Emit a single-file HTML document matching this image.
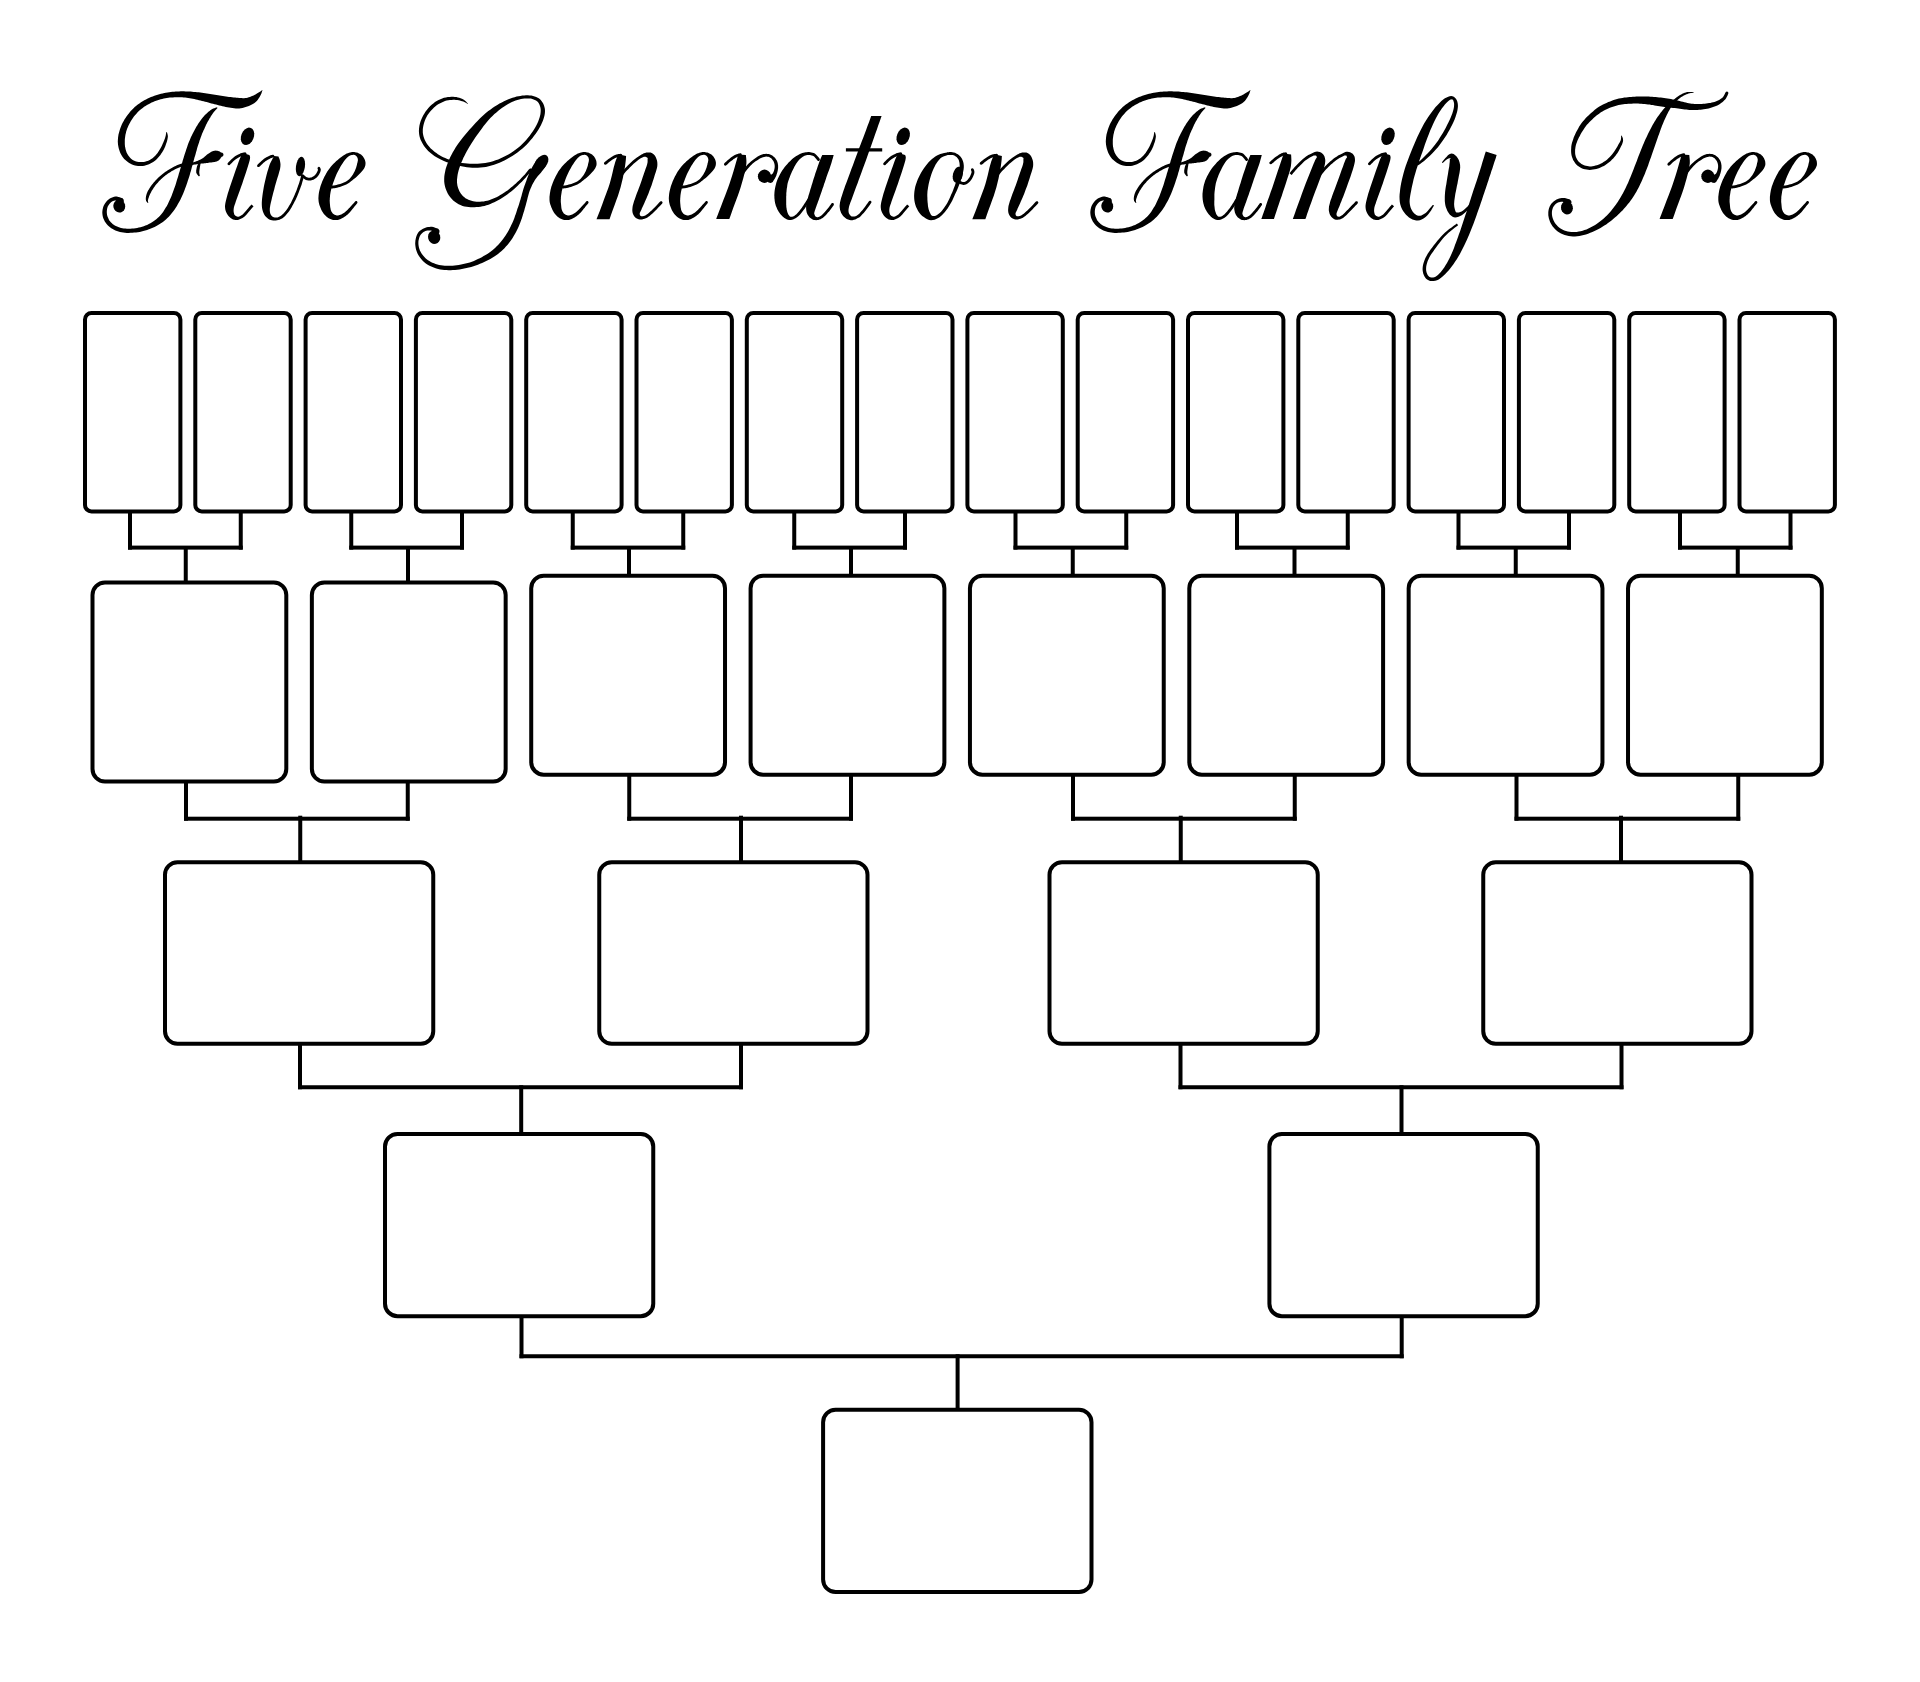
<!DOCTYPE html>
<html lang="en">
<head>
<meta charset="utf-8">
<title>Five Generation Family Tree</title>
<style>
html,body{margin:0;padding:0;background:#fff;}
body{width:1920px;height:1682px;overflow:hidden;font-family:"Liberation Serif",serif;}
svg{display:block;position:absolute;left:0;top:0;}
.bx rect{fill:#fff;stroke:#000;stroke-width:4;}
.ln rect{fill:#000;}
.sr-title{position:absolute;left:100px;top:70px;width:1740px;height:170px;margin:0;font:italic 150px/170px "Liberation Serif",serif;color:transparent;white-space:nowrap;overflow:hidden;text-align:center;z-index:2;}
</style>
</head>
<body>
<h1 class="sr-title">Five Generation Family Tree</h1>
<svg width="1920" height="1682" viewBox="0 0 1920 1682" role="img" aria-label="Five Generation Family Tree chart">
<rect x="0" y="0" width="1920" height="1682" fill="#fff"/>
<g class="ln">
<rect x="128" y="511.4" width="4" height="38.2"/>
<rect x="238.75" y="511.4" width="4" height="38.2"/>
<rect x="128" y="545.6" width="114.75" height="4"/>
<rect x="183.75" y="548.6" width="4" height="33.9"/>
<rect x="349.25" y="511.4" width="4" height="38.2"/>
<rect x="460" y="511.4" width="4" height="38.2"/>
<rect x="349.25" y="545.6" width="114.75" height="4"/>
<rect x="406" y="548.6" width="4" height="33.9"/>
<rect x="570.75" y="511.4" width="4" height="38.2"/>
<rect x="681.25" y="511.4" width="4" height="38.2"/>
<rect x="570.75" y="545.6" width="114.5" height="4"/>
<rect x="627" y="548.6" width="4" height="27.1"/>
<rect x="792.25" y="511.4" width="4" height="38.2"/>
<rect x="903" y="511.4" width="4" height="38.2"/>
<rect x="792.25" y="545.6" width="114.75" height="4"/>
<rect x="849" y="548.6" width="4" height="27.1"/>
<rect x="1013.5" y="511.4" width="4" height="38.2"/>
<rect x="1124.25" y="511.4" width="4" height="38.2"/>
<rect x="1013.5" y="545.6" width="114.75" height="4"/>
<rect x="1070.75" y="548.6" width="4" height="27.1"/>
<rect x="1235" y="511.4" width="4" height="38.2"/>
<rect x="1345.75" y="511.4" width="4" height="38.2"/>
<rect x="1235" y="545.6" width="114.75" height="4"/>
<rect x="1292.5" y="548.6" width="4" height="27.1"/>
<rect x="1456.5" y="511.4" width="4" height="38.2"/>
<rect x="1567" y="511.4" width="4" height="38.2"/>
<rect x="1456.5" y="545.6" width="114.5" height="4"/>
<rect x="1513.75" y="548.6" width="4" height="27.1"/>
<rect x="1678" y="511.4" width="4" height="38.2"/>
<rect x="1788.5" y="511.4" width="4" height="38.2"/>
<rect x="1678" y="545.6" width="114.5" height="4"/>
<rect x="1735.75" y="548.6" width="4" height="27.1"/>
<rect x="184" y="781.5" width="4" height="39.2"/>
<rect x="405.75" y="781.5" width="4" height="39.2"/>
<rect x="184" y="816.7" width="225.75" height="4"/>
<rect x="298.25" y="815.7" width="4" height="46.5"/>
<rect x="627.25" y="774.7" width="4" height="46"/>
<rect x="849" y="774.7" width="4" height="46"/>
<rect x="627.25" y="816.7" width="225.75" height="4"/>
<rect x="739" y="815.7" width="4" height="46.5"/>
<rect x="1071" y="774.7" width="4" height="46"/>
<rect x="1292.75" y="774.7" width="4" height="46"/>
<rect x="1071" y="816.7" width="225.75" height="4"/>
<rect x="1178.75" y="815.7" width="4" height="46.5"/>
<rect x="1514.5" y="774.7" width="4" height="46"/>
<rect x="1736.25" y="774.7" width="4" height="46"/>
<rect x="1514.5" y="816.7" width="225.75" height="4"/>
<rect x="1619" y="815.7" width="4" height="46.5"/>
<rect x="298" y="1043.75" width="4" height="45.5"/>
<rect x="739" y="1043.75" width="4" height="45.5"/>
<rect x="298" y="1085.25" width="445" height="4"/>
<rect x="519.2" y="1085.25" width="4" height="48.75"/>
<rect x="1178.5" y="1043.75" width="4" height="45.5"/>
<rect x="1619.5" y="1043.75" width="4" height="45.5"/>
<rect x="1178.5" y="1085.25" width="445" height="4"/>
<rect x="1399.5" y="1085.25" width="4" height="48.75"/>
<rect x="519.5" y="1316.2" width="4" height="42.05"/>
<rect x="1399.7" y="1316.2" width="4" height="42.05"/>
<rect x="519.5" y="1354.25" width="884.2" height="4"/>
<rect x="955.6" y="1354.25" width="4" height="55.45"/>
</g>
<g class="bx">
<rect x="85" y="313" width="95.4" height="198.4" rx="6.5"/>
<rect x="195.3" y="313" width="95.4" height="198.4" rx="6.5"/>
<rect x="305.6" y="313" width="95.4" height="198.4" rx="6.5"/>
<rect x="415.9" y="313" width="95.4" height="198.4" rx="6.5"/>
<rect x="526.2" y="313" width="95.4" height="198.4" rx="6.5"/>
<rect x="636.5" y="313" width="95.4" height="198.4" rx="6.5"/>
<rect x="746.8" y="313" width="95.4" height="198.4" rx="6.5"/>
<rect x="857.1" y="313" width="95.4" height="198.4" rx="6.5"/>
<rect x="967.4" y="313" width="95.4" height="198.4" rx="6.5"/>
<rect x="1077.7" y="313" width="95.4" height="198.4" rx="6.5"/>
<rect x="1188" y="313" width="95.4" height="198.4" rx="6.5"/>
<rect x="1298.3" y="313" width="95.4" height="198.4" rx="6.5"/>
<rect x="1408.6" y="313" width="95.4" height="198.4" rx="6.5"/>
<rect x="1518.9" y="313" width="95.4" height="198.4" rx="6.5"/>
<rect x="1629.2" y="313" width="95.4" height="198.4" rx="6.5"/>
<rect x="1739.5" y="313" width="95.4" height="198.4" rx="6.5"/>
<rect x="92.5" y="582.5" width="193.8" height="199" rx="12.5"/>
<rect x="311.86" y="582.5" width="193.8" height="199" rx="12.5"/>
<rect x="531.22" y="575.7" width="193.8" height="199" rx="12.5"/>
<rect x="750.58" y="575.7" width="193.8" height="199" rx="12.5"/>
<rect x="969.94" y="575.7" width="193.8" height="199" rx="12.5"/>
<rect x="1189.3" y="575.7" width="193.8" height="199" rx="12.5"/>
<rect x="1408.66" y="575.7" width="193.8" height="199" rx="12.5"/>
<rect x="1628.02" y="575.7" width="193.8" height="199" rx="12.5"/>
<rect x="165" y="862.2" width="268.25" height="181.55" rx="12.5"/>
<rect x="599.25" y="862.2" width="268.25" height="181.55" rx="12.5"/>
<rect x="1049.5" y="862.2" width="268.25" height="181.55" rx="12.5"/>
<rect x="1483.25" y="862.2" width="268.25" height="181.55" rx="12.5"/>
<rect x="385" y="1134" width="268.25" height="182.2" rx="12.5"/>
<rect x="1269.4" y="1134" width="268.35" height="182.2" rx="12.5"/>
<rect x="823.1" y="1409.7" width="268.4" height="182.4" rx="12.5"/>
</g>
<g font-family="Liberation Serif" font-style="italic" font-size="140" fill="#000">

</g>
<g fill="#000">
<path d="M262.0,90.1 261.7,90.5 261.1,90.9 260.3,91.5 259.5,92.0 258.6,92.5 257.8,93.0 256.9,93.6 255.9,94.2 254.9,94.8 254.0,95.3 253.0,95.8 252.0,96.1 251.0,96.5 249.9,97.0 248.7,97.3 247.5,97.7 246.3,97.9 245.2,98.1 244.1,98.2 242.9,98.2 241.7,98.1 240.5,98.0 239.2,97.9 237.8,97.8 236.5,97.7 235.1,97.6 233.7,97.4 232.1,97.3 230.6,97.1 229.0,96.9 227.5,96.7 226.0,96.5 224.4,96.3 222.8,96.0 221.2,95.8 219.6,95.5 218.1,95.3 216.5,95.0 214.9,94.8 213.3,94.5 211.7,94.2 210.1,94.0 208.5,93.7 206.9,93.5 205.2,93.2 203.6,93.0 202.0,92.7 200.3,92.5 198.7,92.3 197.1,92.2 195.4,92.0 193.8,91.9 192.2,91.7 190.5,91.6 188.9,91.5 187.3,91.4 185.6,91.4 184.0,91.3 182.3,91.3 180.7,91.3 179.0,91.4 177.4,91.4 175.7,91.5 174.1,91.7 172.4,91.8 170.8,92.0 169.2,92.2 167.6,92.5 165.9,92.7 164.3,93.0 162.6,93.4 161.0,93.8 159.3,94.2 157.7,94.7 156.0,95.2 154.4,95.8 152.7,96.4 151.0,97.1 149.4,97.8 147.7,98.5 146.0,99.4 144.3,100.3 142.7,101.2 141.0,102.3 139.4,103.4 137.8,104.5 136.3,105.8 134.7,107.1 133.3,108.5 131.8,109.9 130.5,111.3 129.2,112.9 128.0,114.5 126.8,116.1 125.7,117.7 124.6,119.3 123.7,121.0 122.8,122.6 121.9,124.3 121.2,126.0 120.5,127.7 119.9,129.4 119.4,131.2 118.9,132.9 118.5,134.6 118.2,136.4 118.0,138.1 117.9,139.8 117.8,141.4 117.9,143.0 118.0,144.6 118.3,146.2 118.6,147.8 119.0,149.3 119.5,150.8 120.0,152.2 120.7,153.7 121.4,155.1 122.3,156.4 123.2,157.7 124.2,158.9 125.4,160.0 126.6,161.1 127.8,162.1 129.2,163.0 130.6,163.7 132.0,164.4 133.4,164.9 135.0,165.4 136.5,165.8 138.1,166.0 139.6,166.1 141.2,166.1 142.8,165.9 144.4,165.7 145.9,165.3 147.5,164.8 149.0,164.3 150.4,163.6 151.8,162.8 153.2,161.9 154.6,160.9 155.9,159.9 157.1,158.8 158.2,157.6 159.3,156.3 160.4,154.9 161.3,153.6 162.2,152.2 163.1,150.8 163.8,149.4 164.5,147.9 165.2,146.4 165.7,145.0 166.2,143.6 166.6,142.4 167.0,141.2 167.3,140.1 167.5,139.1 167.7,138.1 167.8,137.2 167.9,136.3 167.8,135.4 167.6,134.5 167.4,133.7 167.2,133.0 167.0,132.5 166.8,132.1 166.2,132.2 166.2,132.6 166.1,133.2 166.0,133.8 165.9,134.6 165.8,135.3 165.6,136.0 165.4,136.7 165.2,137.5 164.9,138.4 164.6,139.3 164.2,140.3 163.8,141.3 163.3,142.5 162.7,143.8 162.2,145.1 161.5,146.5 160.8,147.8 160.1,149.1 159.3,150.3 158.5,151.6 157.6,152.9 156.7,154.1 155.7,155.3 154.7,156.3 153.6,157.3 152.5,158.2 151.3,159.0 150.1,159.7 148.8,160.4 147.6,160.9 146.3,161.3 145.0,161.7 143.7,161.9 142.4,162.1 141.1,162.1 139.8,162.1 138.6,162.0 137.3,161.7 136.1,161.4 134.9,161.0 133.7,160.5 132.7,159.9 131.7,159.2 130.8,158.4 129.9,157.5 129.1,156.5 128.3,155.5 127.7,154.5 127.1,153.5 126.6,152.4 126.2,151.3 125.8,150.1 125.5,148.9 125.3,147.7 125.0,146.5 124.9,145.3 124.8,144.0 124.8,142.8 124.8,141.5 124.8,140.1 124.9,138.7 125.1,137.3 125.3,135.8 125.5,134.4 125.9,132.9 126.2,131.4 126.7,130.0 127.2,128.5 127.9,127.0 128.5,125.5 129.3,124.0 130.1,122.5 130.9,121.0 131.9,119.5 132.9,118.1 133.9,116.6 135.0,115.2 136.2,113.9 137.4,112.6 138.6,111.3 140.0,110.1 141.3,109.0 142.7,107.9 144.1,106.8 145.5,105.9 147.0,105.0 148.5,104.2 150.0,103.4 151.6,102.6 153.1,102.0 154.6,101.3 156.1,100.8 157.7,100.2 159.2,99.8 160.7,99.3 162.2,98.9 163.8,98.6 165.3,98.3 166.8,98.1 168.3,97.8 169.9,97.6 171.4,97.5 172.9,97.4 174.5,97.3 176.0,97.2 177.5,97.2 179.1,97.2 180.6,97.2 182.1,97.3 183.6,97.4 185.2,97.6 186.7,97.8 188.2,98.0 189.8,98.2 191.3,98.5 192.8,98.8 194.3,99.1 195.9,99.5 197.4,99.8 199.0,100.2 200.5,100.6 202.0,100.9 203.6,101.3 205.1,101.7 206.7,102.1 208.3,102.6 209.8,103.0 211.4,103.4 213.0,103.8 214.5,104.2 216.1,104.6 217.7,105.0 219.3,105.4 220.9,105.8 222.5,106.2 224.1,106.6 225.7,106.9 227.4,107.2 229.0,107.5 230.7,107.8 232.4,108.1 234.1,108.3 235.9,108.4 237.6,108.4 239.2,108.4 240.9,108.2 242.5,107.9 244.1,107.6 245.7,107.1 247.3,106.6 248.9,106.0 250.4,105.3 251.9,104.5 253.3,103.7 254.5,102.9 255.7,101.9 256.8,100.9 257.8,99.7 258.6,98.6 259.3,97.5 259.9,96.5 260.4,95.5 260.9,94.5 261.4,93.5 261.7,92.5 262.0,91.6 262.2,90.9 262.5,90.5Z"/>
<path d="M217.0,107.2 216.3,107.4 215.4,107.8 214.4,108.2 213.2,108.6 211.9,109.3 210.7,110.0 209.6,110.9 208.4,111.8 207.2,112.9 206.1,114.0 204.9,115.1 203.9,116.3 202.8,117.4 201.8,118.7 200.9,119.9 200.0,121.2 199.1,122.5 198.2,123.8 197.4,125.2 196.5,126.6 195.7,128.0 194.9,129.4 194.1,130.9 193.3,132.4 192.5,134.0 191.8,135.5 191.0,137.1 190.3,138.8 189.6,140.4 188.9,142.1 188.2,143.8 187.6,145.6 187.0,147.4 186.4,149.1 185.8,150.9 185.2,152.7 184.6,154.6 184.0,156.5 183.4,158.4 182.8,160.3 182.3,162.2 181.7,164.1 181.1,166.1 180.6,168.0 180.0,169.9 179.5,171.7 178.9,173.6 178.4,175.5 177.8,177.4 177.2,179.3 176.6,181.2 176.1,183.0 175.5,184.9 174.9,186.7 174.2,188.5 173.6,190.2 173.0,191.9 172.4,193.6 171.8,195.3 171.1,196.9 170.4,198.5 169.7,200.1 169.0,201.6 168.2,203.2 167.5,204.7 166.7,206.2 165.8,207.6 164.9,209.1 164.0,210.6 163.1,212.0 162.1,213.3 161.1,214.6 160.0,215.8 158.8,217.0 157.6,218.1 156.3,219.2 154.9,220.3 153.5,221.3 152.0,222.3 150.4,223.2 148.8,224.1 147.1,224.9 145.4,225.6 143.8,226.2 142.1,226.8 140.5,227.3 138.8,227.6 137.2,228.0 135.5,228.2 133.8,228.4 132.1,228.6 130.4,228.7 128.6,228.7 127.0,228.7 125.3,228.6 123.8,228.4 122.4,228.2 121.0,227.9 119.6,227.6 118.3,227.1 117.1,226.6 115.9,226.1 114.8,225.4 113.7,224.7 112.6,224.0 111.7,223.1 110.8,222.3 110.0,221.3 109.3,220.4 108.7,219.3 108.2,218.1 107.7,216.9 107.3,215.8 107.0,214.7 106.9,213.6 106.8,212.5 106.8,211.4 106.9,210.2 107.0,209.2 107.3,208.1 107.6,207.1 108.0,206.1 108.6,205.2 109.2,204.2 109.8,203.4 110.5,202.7 111.3,202.1 112.1,201.6 113.0,201.1 114.0,200.8 114.8,200.6 115.5,200.5 116.0,200.7 116.6,201.2 117.4,201.8 118.1,202.4 118.9,203.1 119.5,203.5 121.3,203.8 123.0,203.0 123.9,201.3 123.6,199.5 122.3,198.1 121.7,198.0 120.9,197.7 119.7,197.3 118.4,196.9 116.9,196.6 115.4,196.5 114.1,196.8 112.8,197.2 111.5,197.7 110.3,198.3 109.1,199.0 108.0,199.9 107.0,200.8 106.1,201.9 105.3,203.0 104.5,204.2 103.8,205.5 103.3,206.8 102.9,208.2 102.6,209.6 102.4,211.1 102.3,212.5 102.4,214.0 102.6,215.5 102.9,217.0 103.4,218.5 104.1,220.0 104.8,221.4 105.7,222.8 106.6,224.1 107.7,225.2 108.8,226.3 110.0,227.3 111.3,228.2 112.7,229.1 114.0,229.8 115.4,230.5 116.9,231.0 118.4,231.6 120.0,232.0 121.6,232.3 123.3,232.6 125.0,232.8 126.8,232.9 128.7,232.9 130.5,232.8 132.4,232.7 134.2,232.6 136.0,232.4 137.8,232.2 139.7,231.9 141.5,231.5 143.3,231.1 145.2,230.6 147.1,230.0 148.9,229.3 150.9,228.6 152.7,227.8 154.6,226.9 156.4,226.0 158.1,225.1 159.7,224.1 161.3,223.0 162.9,221.9 164.4,220.7 165.9,219.4 167.4,218.1 168.8,216.7 170.1,215.2 171.3,213.7 172.5,212.2 173.7,210.7 174.8,209.2 175.9,207.6 176.9,205.9 177.8,204.3 178.8,202.6 179.7,201.0 180.6,199.2 181.4,197.5 182.2,195.7 183.0,193.9 183.8,192.1 184.5,190.2 185.2,188.3 185.9,186.4 186.6,184.5 187.3,182.5 187.9,180.6 188.6,178.6 189.2,176.7 189.8,174.7 190.3,172.8 190.9,170.9 191.4,169.0 191.9,167.1 192.5,165.2 193.0,163.2 193.5,161.3 194.0,159.4 194.5,157.5 195.1,155.7 195.6,153.9 196.1,152.1 196.6,150.4 197.0,148.7 197.5,147.0 198.0,145.4 198.6,143.8 199.1,142.2 199.6,140.6 200.2,139.0 200.7,137.5 201.3,136.0 201.8,134.5 202.4,133.1 203.0,131.7 203.6,130.3 204.3,128.9 204.9,127.5 205.5,126.2 206.1,124.8 206.8,123.6 207.4,122.3 208.1,121.1 208.8,119.9 209.5,118.6 210.3,117.4 211.0,116.1 211.8,114.9 212.6,113.8 213.3,112.8 214.0,111.8 214.8,110.9 215.6,110.0 216.4,109.2 217.0,108.5 217.5,108.0Z"/>
<path d="M125.0,204.6 125.2,206.6 124.9,208.6 124.0,210.3 122.6,211.6 120.9,212.4 119.1,212.6 117.3,212.1 115.6,211.1 114.4,209.5 113.6,207.7 113.3,205.7 113.7,203.7 114.6,202.0 115.9,200.7 117.6,199.9 119.4,199.7 121.3,200.2 122.9,201.2 124.2,202.8Z"/>
<path d="M184.7,166.9 185.5,166.7 186.7,166.4 188.1,166.0 189.6,165.7 191.0,165.3 192.3,165.0 193.5,164.8 194.7,164.6 195.8,164.4 196.9,164.2 198.1,164.0 199.2,163.9 200.2,163.7 201.2,163.6 202.3,163.5 203.3,163.4 204.3,163.3 205.4,163.2 206.5,163.0 207.6,162.9 208.6,162.7 209.6,162.6 210.5,162.5 211.4,162.4 212.3,162.3 213.1,162.2 213.9,162.1 214.7,162.0 215.5,161.8 216.2,161.6 216.9,161.4 217.5,161.1 218.1,160.7 218.6,160.4 219.1,160.0 219.6,159.6 219.9,159.2 220.3,158.7 220.7,158.1 221.0,157.6 221.4,157.2 221.7,156.8 222.9,156.3 223.5,155.1 223.3,153.7 222.4,152.7 221.0,152.5 220.7,152.3 220.3,151.9 219.7,151.6 219.0,151.2 218.2,150.9 217.4,150.7 216.6,150.7 215.8,150.6 215.0,150.7 214.2,150.8 213.4,150.9 212.6,151.2 211.8,151.5 211.0,151.9 210.2,152.4 209.5,152.9 208.7,153.4 207.9,154.0 207.1,154.6 206.3,155.3 205.5,156.0 204.8,156.6 204.1,157.3 203.4,157.8 202.7,158.3 201.9,158.8 201.0,159.3 200.1,159.7 199.2,160.1 198.3,160.5 197.3,160.9 196.2,161.3 195.2,161.7 194.1,162.1 192.9,162.4 191.7,162.8 190.4,163.2 189.0,163.7 187.6,164.2 186.2,164.6 185.0,165.0 184.2,165.3 183.8,165.6 183.6,166.1 183.7,166.6 184.1,166.9Z"/>
<path d="M198.6,162.0 198.4,162.7 198.0,163.7 197.6,164.9 197.1,166.1 196.8,167.2 196.6,168.2 196.4,169.3 196.2,170.3 196.2,171.4 196.2,172.5 196.6,173.5 197.1,174.3 197.6,175.0 198.1,175.5 198.4,175.9 198.7,176.2 199.2,176.3 199.6,176.1 199.8,175.6 199.8,175.2 199.6,174.7 199.5,174.0 199.3,173.3 199.3,172.7 199.3,172.1 199.3,171.5 199.4,170.7 199.5,169.8 199.7,168.8 199.8,167.8 200.0,166.8 200.2,165.6 200.4,164.4 200.5,163.3 200.7,162.6 200.6,161.9 200.2,161.4 199.6,161.2 199.0,161.5Z"/>
<path d="M186.0,162.6 185.2,162.8 184.0,163.1 182.6,163.4 181.1,163.8 179.6,164.3 178.2,164.8 176.9,165.3 175.6,165.9 174.3,166.5 173.0,167.2 171.7,167.9 170.4,168.7 169.1,169.5 167.8,170.3 166.4,171.2 165.1,172.1 163.9,173.1 162.6,174.0 161.4,175.0 160.2,176.0 159.0,177.1 157.9,178.1 156.8,179.2 155.7,180.3 154.7,181.4 153.7,182.5 152.8,183.7 151.9,184.8 151.0,185.9 150.3,187.1 149.5,188.3 148.8,189.4 148.1,190.6 147.5,191.8 147.0,192.9 146.6,194.1 146.3,195.2 146.0,196.3 145.9,197.3 145.8,198.3 145.8,199.2 145.9,200.1 146.1,200.9 146.5,201.6 146.9,202.1 147.3,202.5 147.6,202.8 147.8,203.1 148.4,202.8 148.3,202.4 148.1,202.0 148.0,201.5 147.9,201.0 147.9,200.5 148.0,200.0 148.1,199.4 148.3,198.7 148.6,197.9 148.9,197.0 149.2,196.1 149.6,195.2 150.0,194.3 150.5,193.2 151.1,192.2 151.6,191.1 152.3,190.0 153.0,188.9 153.7,187.8 154.5,186.7 155.3,185.6 156.1,184.5 157.0,183.4 158.0,182.4 158.9,181.3 160.0,180.3 161.0,179.2 162.1,178.2 163.2,177.2 164.4,176.3 165.6,175.3 166.8,174.4 168.0,173.5 169.3,172.7 170.6,171.9 171.8,171.1 173.1,170.4 174.3,169.7 175.6,169.1 176.8,168.5 178.0,168.0 179.2,167.4 180.5,166.9 181.9,166.4 183.4,165.9 184.7,165.5 185.8,165.1 186.7,164.8 187.2,164.4 187.5,163.8 187.3,163.1 186.7,162.6Z"/>
<path d="M1250.0,90.1 1249.7,90.5 1249.1,90.9 1248.3,91.5 1247.5,92.0 1246.6,92.5 1245.8,93.0 1244.9,93.6 1243.9,94.2 1242.9,94.8 1242.0,95.3 1241.0,95.8 1240.0,96.1 1239.0,96.5 1237.9,97.0 1236.7,97.3 1235.5,97.7 1234.3,97.9 1233.2,98.1 1232.1,98.2 1230.9,98.2 1229.7,98.1 1228.5,98.0 1227.2,97.9 1225.8,97.8 1224.5,97.7 1223.1,97.6 1221.7,97.4 1220.1,97.3 1218.6,97.1 1217.0,96.9 1215.5,96.7 1214.0,96.5 1212.4,96.3 1210.8,96.0 1209.2,95.8 1207.6,95.5 1206.1,95.3 1204.5,95.0 1202.9,94.8 1201.3,94.5 1199.7,94.2 1198.1,94.0 1196.5,93.7 1194.9,93.5 1193.2,93.2 1191.6,93.0 1190.0,92.7 1188.3,92.5 1186.7,92.3 1185.1,92.2 1183.4,92.0 1181.8,91.9 1180.2,91.7 1178.5,91.6 1176.9,91.5 1175.3,91.4 1173.6,91.4 1172.0,91.3 1170.3,91.3 1168.7,91.3 1167.0,91.4 1165.4,91.4 1163.7,91.5 1162.1,91.7 1160.4,91.8 1158.8,92.0 1157.2,92.2 1155.6,92.5 1153.9,92.7 1152.3,93.0 1150.6,93.4 1149.0,93.8 1147.3,94.2 1145.7,94.7 1144.0,95.2 1142.4,95.8 1140.7,96.4 1139.0,97.1 1137.4,97.8 1135.7,98.5 1134.0,99.4 1132.3,100.3 1130.7,101.2 1129.0,102.3 1127.4,103.4 1125.8,104.5 1124.3,105.8 1122.7,107.1 1121.3,108.5 1119.8,109.9 1118.5,111.3 1117.2,112.9 1116.0,114.5 1114.8,116.1 1113.7,117.7 1112.6,119.3 1111.7,121.0 1110.8,122.6 1109.9,124.3 1109.2,126.0 1108.5,127.7 1107.9,129.4 1107.4,131.2 1106.9,132.9 1106.5,134.6 1106.2,136.4 1106.0,138.1 1105.9,139.8 1105.8,141.4 1105.9,143.0 1106.0,144.6 1106.3,146.2 1106.6,147.8 1107.0,149.3 1107.5,150.8 1108.0,152.2 1108.7,153.7 1109.4,155.1 1110.3,156.4 1111.2,157.7 1112.2,158.9 1113.4,160.0 1114.6,161.1 1115.8,162.1 1117.2,163.0 1118.6,163.7 1120.0,164.4 1121.4,164.9 1123.0,165.4 1124.5,165.8 1126.1,166.0 1127.6,166.1 1129.2,166.1 1130.8,165.9 1132.4,165.7 1133.9,165.3 1135.5,164.8 1137.0,164.3 1138.4,163.6 1139.8,162.8 1141.2,161.9 1142.6,160.9 1143.9,159.9 1145.1,158.8 1146.2,157.6 1147.3,156.3 1148.4,154.9 1149.3,153.6 1150.2,152.2 1151.1,150.8 1151.8,149.4 1152.5,147.9 1153.2,146.4 1153.7,145.0 1154.2,143.6 1154.6,142.4 1155.0,141.2 1155.3,140.1 1155.5,139.1 1155.7,138.1 1155.8,137.2 1155.9,136.3 1155.8,135.4 1155.6,134.5 1155.4,133.7 1155.2,133.0 1155.0,132.5 1154.8,132.1 1154.2,132.2 1154.2,132.6 1154.1,133.2 1154.0,133.8 1153.9,134.6 1153.8,135.3 1153.6,136.0 1153.4,136.7 1153.2,137.5 1152.9,138.4 1152.6,139.3 1152.2,140.3 1151.8,141.3 1151.3,142.5 1150.7,143.8 1150.2,145.1 1149.5,146.5 1148.8,147.8 1148.1,149.1 1147.3,150.3 1146.5,151.6 1145.6,152.9 1144.7,154.1 1143.7,155.3 1142.7,156.3 1141.6,157.3 1140.5,158.2 1139.3,159.0 1138.1,159.7 1136.8,160.4 1135.6,160.9 1134.3,161.3 1133.0,161.7 1131.7,161.9 1130.4,162.1 1129.1,162.1 1127.8,162.1 1126.6,162.0 1125.3,161.7 1124.1,161.4 1122.9,161.0 1121.7,160.5 1120.7,159.9 1119.7,159.2 1118.8,158.4 1117.9,157.5 1117.1,156.5 1116.3,155.5 1115.7,154.5 1115.1,153.5 1114.6,152.4 1114.2,151.3 1113.8,150.1 1113.5,148.9 1113.3,147.7 1113.0,146.5 1112.9,145.3 1112.8,144.0 1112.8,142.8 1112.8,141.5 1112.8,140.1 1112.9,138.7 1113.1,137.3 1113.3,135.8 1113.5,134.4 1113.9,132.9 1114.2,131.4 1114.7,130.0 1115.2,128.5 1115.9,127.0 1116.5,125.5 1117.3,124.0 1118.1,122.5 1118.9,121.0 1119.9,119.5 1120.9,118.1 1121.9,116.6 1123.0,115.2 1124.2,113.9 1125.4,112.6 1126.6,111.3 1128.0,110.1 1129.3,109.0 1130.7,107.9 1132.1,106.8 1133.5,105.9 1135.0,105.0 1136.5,104.2 1138.0,103.4 1139.6,102.6 1141.1,102.0 1142.6,101.3 1144.1,100.8 1145.7,100.2 1147.2,99.8 1148.7,99.3 1150.2,98.9 1151.8,98.6 1153.3,98.3 1154.8,98.1 1156.3,97.8 1157.9,97.6 1159.4,97.5 1160.9,97.4 1162.5,97.3 1164.0,97.2 1165.5,97.2 1167.1,97.2 1168.6,97.2 1170.1,97.3 1171.6,97.4 1173.2,97.6 1174.7,97.8 1176.2,98.0 1177.8,98.2 1179.3,98.5 1180.8,98.8 1182.3,99.1 1183.9,99.5 1185.4,99.8 1187.0,100.2 1188.5,100.6 1190.0,100.9 1191.6,101.3 1193.1,101.7 1194.7,102.1 1196.3,102.6 1197.8,103.0 1199.4,103.4 1201.0,103.8 1202.5,104.2 1204.1,104.6 1205.7,105.0 1207.3,105.4 1208.9,105.8 1210.5,106.2 1212.1,106.6 1213.7,106.9 1215.4,107.2 1217.0,107.5 1218.7,107.8 1220.4,108.1 1222.1,108.3 1223.9,108.4 1225.6,108.4 1227.2,108.4 1228.9,108.2 1230.5,107.9 1232.1,107.6 1233.7,107.1 1235.3,106.6 1236.9,106.0 1238.4,105.3 1239.9,104.5 1241.3,103.7 1242.5,102.9 1243.7,101.9 1244.8,100.9 1245.8,99.7 1246.6,98.6 1247.3,97.5 1247.9,96.5 1248.4,95.5 1248.9,94.5 1249.4,93.5 1249.7,92.5 1250.0,91.6 1250.2,90.9 1250.5,90.5Z"/>
<path d="M1205.0,107.2 1204.3,107.4 1203.4,107.8 1202.4,108.2 1201.2,108.6 1199.9,109.3 1198.7,110.0 1197.6,110.9 1196.4,111.8 1195.2,112.9 1194.1,114.0 1192.9,115.1 1191.9,116.3 1190.8,117.4 1189.8,118.7 1188.9,119.9 1188.0,121.2 1187.1,122.5 1186.2,123.8 1185.4,125.2 1184.5,126.6 1183.7,128.0 1182.9,129.4 1182.1,130.9 1181.3,132.4 1180.5,134.0 1179.8,135.5 1179.0,137.1 1178.3,138.8 1177.6,140.4 1176.9,142.1 1176.2,143.8 1175.6,145.6 1175.0,147.4 1174.4,149.1 1173.8,150.9 1173.2,152.7 1172.6,154.6 1172.0,156.5 1171.4,158.4 1170.8,160.3 1170.3,162.2 1169.7,164.1 1169.1,166.1 1168.6,168.0 1168.0,169.9 1167.5,171.7 1166.9,173.6 1166.4,175.5 1165.8,177.4 1165.2,179.3 1164.6,181.2 1164.1,183.0 1163.5,184.9 1162.9,186.7 1162.2,188.5 1161.6,190.2 1161.0,191.9 1160.4,193.6 1159.8,195.3 1159.1,196.9 1158.4,198.5 1157.7,200.1 1157.0,201.6 1156.2,203.2 1155.5,204.7 1154.7,206.2 1153.8,207.6 1152.9,209.1 1152.0,210.6 1151.1,212.0 1150.1,213.3 1149.1,214.6 1148.0,215.8 1146.8,217.0 1145.6,218.1 1144.3,219.2 1142.9,220.3 1141.5,221.3 1140.0,222.3 1138.4,223.2 1136.8,224.1 1135.1,224.9 1133.4,225.6 1131.8,226.2 1130.1,226.8 1128.5,227.3 1126.8,227.6 1125.2,228.0 1123.5,228.2 1121.8,228.4 1120.1,228.6 1118.4,228.7 1116.6,228.7 1115.0,228.7 1113.3,228.6 1111.8,228.4 1110.4,228.2 1109.0,227.9 1107.6,227.6 1106.3,227.1 1105.1,226.6 1103.9,226.1 1102.8,225.4 1101.7,224.7 1100.6,224.0 1099.7,223.1 1098.8,222.3 1098.0,221.3 1097.3,220.4 1096.7,219.3 1096.2,218.1 1095.7,216.9 1095.3,215.8 1095.0,214.7 1094.9,213.6 1094.8,212.5 1094.8,211.4 1094.9,210.2 1095.0,209.2 1095.3,208.1 1095.6,207.1 1096.0,206.1 1096.6,205.2 1097.2,204.2 1097.8,203.4 1098.5,202.7 1099.3,202.1 1100.1,201.6 1101.0,201.1 1102.0,200.8 1102.8,200.6 1103.5,200.5 1104.0,200.7 1104.6,201.2 1105.4,201.8 1106.1,202.4 1106.9,203.1 1107.5,203.5 1109.3,203.8 1111.0,203.0 1111.9,201.3 1111.6,199.5 1110.3,198.1 1109.7,198.0 1108.9,197.7 1107.7,197.3 1106.4,196.9 1104.9,196.6 1103.4,196.5 1102.1,196.8 1100.8,197.2 1099.5,197.7 1098.3,198.3 1097.1,199.0 1096.0,199.9 1095.0,200.8 1094.1,201.9 1093.3,203.0 1092.5,204.2 1091.8,205.5 1091.3,206.8 1090.9,208.2 1090.6,209.6 1090.4,211.1 1090.3,212.5 1090.4,214.0 1090.6,215.5 1090.9,217.0 1091.4,218.5 1092.1,220.0 1092.8,221.4 1093.7,222.8 1094.6,224.1 1095.7,225.2 1096.8,226.3 1098.0,227.3 1099.3,228.2 1100.7,229.1 1102.0,229.8 1103.4,230.5 1104.9,231.0 1106.4,231.6 1108.0,232.0 1109.6,232.3 1111.3,232.6 1113.0,232.8 1114.8,232.9 1116.7,232.9 1118.5,232.8 1120.4,232.7 1122.2,232.6 1124.0,232.4 1125.8,232.2 1127.7,231.9 1129.5,231.5 1131.3,231.1 1133.2,230.6 1135.1,230.0 1136.9,229.3 1138.9,228.6 1140.7,227.8 1142.6,226.9 1144.4,226.0 1146.1,225.1 1147.7,224.1 1149.3,223.0 1150.9,221.9 1152.4,220.7 1153.9,219.4 1155.4,218.1 1156.8,216.7 1158.1,215.2 1159.3,213.7 1160.5,212.2 1161.7,210.7 1162.8,209.2 1163.9,207.6 1164.9,205.9 1165.8,204.3 1166.8,202.6 1167.7,201.0 1168.6,199.2 1169.4,197.5 1170.2,195.7 1171.0,193.9 1171.8,192.1 1172.5,190.2 1173.2,188.3 1173.9,186.4 1174.6,184.5 1175.3,182.5 1175.9,180.6 1176.6,178.6 1177.2,176.7 1177.8,174.7 1178.3,172.8 1178.9,170.9 1179.4,169.0 1179.9,167.1 1180.5,165.2 1181.0,163.2 1181.5,161.3 1182.0,159.4 1182.5,157.5 1183.1,155.7 1183.6,153.9 1184.1,152.1 1184.6,150.4 1185.0,148.7 1185.5,147.0 1186.0,145.4 1186.6,143.8 1187.1,142.2 1187.6,140.6 1188.2,139.0 1188.7,137.5 1189.3,136.0 1189.8,134.5 1190.4,133.1 1191.0,131.7 1191.6,130.3 1192.3,128.9 1192.9,127.5 1193.5,126.2 1194.1,124.8 1194.8,123.6 1195.4,122.3 1196.1,121.1 1196.8,119.9 1197.5,118.6 1198.3,117.4 1199.0,116.1 1199.8,114.9 1200.6,113.8 1201.3,112.8 1202.0,111.8 1202.8,110.9 1203.6,110.0 1204.4,109.2 1205.0,108.5 1205.5,108.0Z"/>
<path d="M1113.0,204.6 1113.2,206.6 1112.9,208.6 1112.0,210.3 1110.6,211.6 1108.9,212.4 1107.1,212.6 1105.3,212.1 1103.6,211.1 1102.4,209.5 1101.6,207.7 1101.3,205.7 1101.7,203.7 1102.6,202.0 1103.9,200.7 1105.6,199.9 1107.4,199.7 1109.3,200.2 1110.9,201.2 1112.2,202.8Z"/>
<path d="M1172.7,166.9 1173.5,166.7 1174.7,166.4 1176.1,166.0 1177.6,165.7 1179.0,165.3 1180.3,165.0 1181.5,164.8 1182.7,164.6 1183.8,164.4 1184.9,164.2 1186.1,164.0 1187.2,163.9 1188.2,163.7 1189.2,163.6 1190.3,163.5 1191.3,163.4 1192.3,163.3 1193.4,163.2 1194.5,163.0 1195.6,162.9 1196.6,162.7 1197.6,162.6 1198.5,162.5 1199.4,162.4 1200.3,162.3 1201.1,162.2 1201.9,162.1 1202.7,162.0 1203.5,161.8 1204.2,161.6 1204.9,161.4 1205.5,161.1 1206.1,160.7 1206.6,160.4 1207.1,160.0 1207.6,159.6 1207.9,159.2 1208.3,158.7 1208.7,158.1 1209.0,157.6 1209.4,157.2 1209.7,156.8 1210.9,156.3 1211.5,155.1 1211.3,153.7 1210.4,152.7 1209.0,152.5 1208.7,152.3 1208.3,151.9 1207.7,151.6 1207.0,151.2 1206.2,150.9 1205.4,150.7 1204.6,150.7 1203.8,150.6 1203.0,150.7 1202.2,150.8 1201.4,150.9 1200.6,151.2 1199.8,151.5 1199.0,151.9 1198.2,152.4 1197.5,152.9 1196.7,153.4 1195.9,154.0 1195.1,154.6 1194.3,155.3 1193.5,156.0 1192.8,156.6 1192.1,157.3 1191.4,157.8 1190.7,158.3 1189.9,158.8 1189.0,159.3 1188.1,159.7 1187.2,160.1 1186.3,160.5 1185.3,160.9 1184.2,161.3 1183.2,161.7 1182.1,162.1 1180.9,162.4 1179.7,162.8 1178.4,163.2 1177.0,163.7 1175.6,164.2 1174.2,164.6 1173.0,165.0 1172.2,165.3 1171.8,165.6 1171.6,166.1 1171.7,166.6 1172.1,166.9Z"/>
<path d="M1186.6,162.0 1186.4,162.7 1186.0,163.7 1185.6,164.9 1185.1,166.1 1184.8,167.2 1184.6,168.2 1184.4,169.3 1184.2,170.3 1184.2,171.4 1184.2,172.5 1184.6,173.5 1185.1,174.3 1185.6,175.0 1186.1,175.5 1186.4,175.9 1186.7,176.2 1187.2,176.3 1187.6,176.1 1187.8,175.6 1187.8,175.2 1187.6,174.7 1187.5,174.0 1187.3,173.3 1187.3,172.7 1187.3,172.1 1187.3,171.5 1187.4,170.7 1187.5,169.8 1187.7,168.8 1187.8,167.8 1188.0,166.8 1188.2,165.6 1188.4,164.4 1188.5,163.3 1188.7,162.6 1188.6,161.9 1188.2,161.4 1187.6,161.2 1187.0,161.5Z"/>
<path d="M1174.0,162.6 1173.2,162.8 1172.0,163.1 1170.6,163.4 1169.1,163.8 1167.6,164.3 1166.2,164.8 1164.9,165.3 1163.6,165.9 1162.3,166.5 1161.0,167.2 1159.7,167.9 1158.4,168.7 1157.1,169.5 1155.8,170.3 1154.4,171.2 1153.1,172.1 1151.9,173.1 1150.6,174.0 1149.4,175.0 1148.2,176.0 1147.0,177.1 1145.9,178.1 1144.8,179.2 1143.7,180.3 1142.7,181.4 1141.7,182.5 1140.8,183.7 1139.9,184.8 1139.0,185.9 1138.3,187.1 1137.5,188.3 1136.8,189.4 1136.1,190.6 1135.5,191.8 1135.0,192.9 1134.6,194.1 1134.3,195.2 1134.0,196.3 1133.9,197.3 1133.8,198.3 1133.8,199.2 1133.9,200.1 1134.1,200.9 1134.5,201.6 1134.9,202.1 1135.3,202.5 1135.6,202.8 1135.8,203.1 1136.4,202.8 1136.3,202.4 1136.1,202.0 1136.0,201.5 1135.9,201.0 1135.9,200.5 1136.0,200.0 1136.1,199.4 1136.3,198.7 1136.6,197.9 1136.9,197.0 1137.2,196.1 1137.6,195.2 1138.0,194.3 1138.5,193.2 1139.1,192.2 1139.6,191.1 1140.3,190.0 1141.0,188.9 1141.7,187.8 1142.5,186.7 1143.3,185.6 1144.1,184.5 1145.0,183.4 1146.0,182.4 1146.9,181.3 1148.0,180.3 1149.0,179.2 1150.1,178.2 1151.2,177.2 1152.4,176.3 1153.6,175.3 1154.8,174.4 1156.0,173.5 1157.3,172.7 1158.6,171.9 1159.8,171.1 1161.1,170.4 1162.3,169.7 1163.6,169.1 1164.8,168.5 1166.0,168.0 1167.2,167.4 1168.5,166.9 1169.9,166.4 1171.4,165.9 1172.7,165.5 1173.8,165.1 1174.7,164.8 1175.2,164.4 1175.5,163.8 1175.3,163.1 1174.7,162.6Z"/>
<path d="M467.9,103.4 467.4,103.0 466.8,102.4 466.0,101.6 465.1,100.8 464.1,100.0 463.0,99.3 461.9,98.8 460.6,98.2 459.3,97.8 457.9,97.4 456.4,97.1 454.8,96.9 453.2,96.8 451.4,96.8 449.6,96.9 447.8,97.0 445.9,97.4 444.0,97.8 442.2,98.4 440.4,99.2 438.6,100.0 436.7,101.0 435.0,102.1 433.3,103.4 431.6,104.8 430.0,106.3 428.4,108.0 427.0,109.8 425.6,111.6 424.4,113.4 423.3,115.3 422.3,117.3 421.4,119.3 420.6,121.3 420.0,123.3 419.5,125.3 419.2,127.2 419.0,129.0 418.9,130.9 419.0,132.7 419.2,134.5 419.5,136.3 420.0,138.1 420.7,139.9 421.5,141.6 422.4,143.3 423.4,144.9 424.4,146.5 425.6,148.0 426.9,149.5 428.2,150.9 429.7,152.2 431.2,153.5 432.8,154.7 434.4,155.9 436.1,157.0 437.9,158.1 439.8,159.1 441.8,160.1 443.9,161.0 446.2,161.9 448.6,162.8 451.1,163.7 453.7,164.4 456.3,165.1 458.9,165.8 461.5,166.3 464.2,166.8 466.9,167.2 469.6,167.5 472.3,167.8 475.1,167.8 477.8,167.8 480.5,167.6 483.2,167.3 485.9,166.9 488.7,166.3 491.4,165.6 494.1,164.8 496.8,163.8 499.5,162.7 502.2,161.5 504.9,160.2 507.5,158.8 510.1,157.3 512.7,155.7 515.3,154.0 517.8,152.2 520.2,150.3 522.5,148.4 524.7,146.4 526.8,144.4 528.8,142.2 530.7,140.1 532.5,137.9 534.1,135.8 535.7,133.7 537.2,131.5 538.5,129.4 539.8,127.3 540.9,125.2 541.9,123.1 542.8,121.0 543.5,119.0 544.1,117.0 544.6,114.9 544.9,112.9 545.0,111.0 544.9,109.1 544.5,107.2 544.0,105.4 543.3,103.8 542.4,102.2 541.5,100.9 540.3,99.6 539.1,98.6 537.7,97.7 536.2,97.0 534.7,96.4 533.1,95.9 531.4,95.6 529.7,95.4 527.9,95.3 526.0,95.3 524.2,95.4 522.3,95.6 520.4,95.9 518.5,96.2 516.6,96.6 514.6,97.2 512.5,97.8 510.5,98.5 508.4,99.3 506.2,100.2 504.0,101.2 501.8,102.4 499.5,103.6 497.3,104.9 495.1,106.3 492.8,107.8 490.6,109.4 488.3,111.1 486.1,112.8 483.9,114.7 481.7,116.7 479.6,118.7 477.5,120.9 475.5,123.1 473.5,125.2 471.5,127.4 469.6,129.5 467.7,131.7 465.8,133.9 463.9,136.2 462.1,138.5 460.4,140.7 458.7,143.0 457.1,145.3 455.6,147.6 454.2,149.9 452.8,152.3 451.5,154.7 450.3,157.1 449.2,159.5 448.1,161.9 447.2,164.4 446.3,166.9 445.6,169.3 445.1,171.8 444.6,174.2 444.3,176.6 444.2,179.1 444.2,181.6 444.5,184.1 445.0,186.5 445.7,188.8 446.6,191.1 447.6,193.2 448.8,195.2 450.1,197.1 451.6,198.8 453.2,200.4 454.9,201.8 456.7,203.1 458.6,204.2 460.5,205.1 462.5,205.9 464.6,206.4 466.6,206.8 468.6,207.1 470.5,207.2 472.5,207.2 474.5,207.2 476.5,207.1 478.5,207.0 480.5,206.7 482.5,206.3 484.5,205.9 486.5,205.3 488.5,204.7 490.4,203.9 492.3,203.1 494.3,202.3 496.2,201.3 498.1,200.3 500.0,199.2 502.0,198.0 503.9,196.8 505.8,195.5 507.6,194.2 509.4,192.8 511.2,191.4 513.0,189.9 514.7,188.4 516.3,186.9 517.9,185.5 519.3,184.1 520.7,182.7 522.1,181.4 523.4,180.0 524.6,178.7 525.8,177.4 526.9,176.1 528.1,174.8 529.1,173.5 530.1,172.3 530.9,171.3 531.5,170.6 531.8,169.8 531.6,169.0 530.9,168.5 530.1,168.4 529.4,168.9 528.8,169.6 528.0,170.6 527.0,171.8 526.0,173.1 524.9,174.4 523.8,175.6 522.6,176.8 521.4,178.1 520.1,179.4 518.8,180.7 517.3,182.0 515.9,183.4 514.3,184.7 512.7,186.2 511.0,187.6 509.3,189.0 507.5,190.4 505.8,191.6 504.0,192.8 502.1,194.0 500.3,195.1 498.4,196.2 496.5,197.2 494.6,198.1 492.8,198.8 490.9,199.6 489.1,200.2 487.3,200.7 485.4,201.1 483.7,201.4 481.9,201.6 480.0,201.7 478.2,201.7 476.5,201.7 474.8,201.5 473.1,201.2 471.5,200.8 469.9,200.3 468.4,199.8 467.1,199.1 465.8,198.4 464.7,197.6 463.7,196.7 462.6,195.7 461.6,194.6 460.8,193.4 460.0,192.2 459.3,191.0 458.8,189.7 458.2,188.3 457.8,186.9 457.4,185.4 457.2,184.0 457.0,182.5 457.0,181.1 457.0,179.6 457.2,177.9 457.4,176.2 457.7,174.3 458.1,172.4 458.6,170.5 459.2,168.5 459.9,166.4 460.7,164.3 461.6,162.1 462.5,160.0 463.4,157.8 464.5,155.7 465.6,153.5 466.8,151.3 468.1,149.0 469.4,146.8 470.8,144.5 472.2,142.2 473.7,140.0 475.3,137.6 476.9,135.3 478.6,133.0 480.2,130.7 481.9,128.4 483.6,126.1 485.3,123.9 487.1,121.7 488.8,119.7 490.6,117.8 492.5,115.9 494.4,114.1 496.4,112.4 498.3,110.7 500.2,109.2 502.2,107.8 504.2,106.4 506.1,105.2 508.1,104.0 510.0,103.0 511.9,102.0 513.8,101.2 515.6,100.5 517.4,99.9 519.2,99.5 521.0,99.1 522.7,98.8 524.4,98.6 526.2,98.4 527.8,98.4 529.4,98.5 530.9,98.6 532.3,99.0 533.6,99.4 534.8,99.9 536.0,100.6 537.0,101.3 537.9,102.1 538.6,103.0 539.2,104.1 539.7,105.3 540.2,106.7 540.5,108.1 540.7,109.5 540.7,111.0 540.6,112.5 540.4,114.2 540.0,115.9 539.5,117.7 538.9,119.6 538.2,121.5 537.3,123.4 536.3,125.4 535.2,127.5 534.0,129.5 532.7,131.6 531.2,133.6 529.7,135.7 528.0,137.8 526.2,139.9 524.3,142.0 522.3,144.0 520.3,145.9 518.1,147.7 515.8,149.5 513.4,151.2 510.9,152.9 508.4,154.4 505.9,155.8 503.4,157.1 500.8,158.3 498.2,159.4 495.6,160.3 493.0,161.2 490.4,161.9 487.8,162.5 485.3,162.9 482.7,163.3 480.2,163.5 477.6,163.7 475.0,163.8 472.5,163.8 469.9,163.7 467.3,163.5 464.7,163.2 462.1,162.9 459.6,162.4 457.1,161.9 454.5,161.3 452.1,160.6 449.6,159.8 447.3,159.0 445.2,158.1 443.2,157.2 441.3,156.3 439.6,155.3 437.9,154.2 436.4,153.1 434.8,152.0 433.4,150.8 432.0,149.6 430.7,148.4 429.5,147.1 428.4,145.8 427.4,144.4 426.4,143.0 425.6,141.5 424.8,140.0 424.2,138.5 423.7,136.9 423.3,135.4 423.0,133.9 422.8,132.4 422.8,130.9 422.8,129.3 423.0,127.7 423.3,126.1 423.7,124.3 424.2,122.5 424.8,120.7 425.6,118.8 426.5,117.0 427.4,115.3 428.5,113.7 429.8,112.0 431.1,110.4 432.6,108.9 434.0,107.4 435.5,106.2 437.0,105.1 438.6,104.1 440.2,103.2 441.8,102.4 443.4,101.7 445.0,101.1 446.6,100.6 448.3,100.3 449.9,100.0 451.6,99.9 453.2,99.8 454.6,99.8 456.0,99.9 457.4,100.0 458.7,100.2 459.9,100.5 461.1,100.9 462.2,101.2 463.3,101.6 464.3,102.0 465.3,102.5 466.2,103.1 467.0,103.5 467.5,103.9Z"/>
<path d="M536.2,161.0 535.7,161.6 535.1,162.5 534.4,163.5 533.7,164.6 533.0,165.8 532.4,166.8 531.9,167.7 531.4,168.6 530.9,169.5 530.4,170.5 529.9,171.5 529.4,172.6 528.9,173.8 528.5,175.0 528.0,176.2 527.5,177.5 527.0,178.8 526.6,180.1 526.1,181.5 525.5,182.9 525.0,184.4 524.4,185.9 523.9,187.4 523.4,189.1 522.9,190.7 522.4,192.4 521.9,194.2 521.5,195.9 521.0,197.6 520.5,199.4 519.9,201.2 519.4,203.0 518.8,204.9 518.2,206.7 517.5,208.6 516.9,210.5 516.3,212.4 515.7,214.2 515.0,216.1 514.4,217.9 513.7,219.7 513.0,221.5 512.2,223.3 511.3,225.1 510.4,227.0 509.5,228.8 508.6,230.6 507.6,232.3 506.5,234.0 505.4,235.7 504.3,237.3 503.1,238.9 501.9,240.5 500.7,242.0 499.4,243.5 498.1,244.9 496.7,246.3 495.3,247.7 493.9,249.0 492.4,250.3 490.8,251.5 489.1,252.7 487.3,253.9 485.5,255.0 483.6,256.1 481.8,257.2 479.8,258.2 477.9,259.1 475.9,260.0 473.9,260.9 471.9,261.7 469.8,262.4 467.7,263.0 465.5,263.6 463.3,264.1 461.1,264.6 458.8,264.9 456.7,265.2 454.6,265.5 452.6,265.7 450.6,265.8 448.6,265.8 446.6,265.8 444.7,265.7 442.9,265.5 441.0,265.2 439.1,264.9 437.4,264.4 435.6,263.9 434.0,263.3 432.4,262.7 430.9,261.9 429.4,261.1 428.0,260.2 426.7,259.2 425.5,258.2 424.4,257.1 423.3,255.8 422.3,254.5 421.4,253.2 420.6,251.8 419.9,250.5 419.4,249.1 419.0,247.7 418.7,246.3 418.5,244.9 418.4,243.5 418.4,242.1 418.5,240.8 418.8,239.5 419.1,238.3 419.5,237.0 419.9,236.0 420.5,235.0 421.1,234.2 421.8,233.4 422.6,232.7 423.5,232.1 424.5,231.5 425.4,231.1 426.3,230.8 427.4,230.5 428.4,230.4 429.5,230.4 430.4,230.4 431.2,230.6 431.8,231.0 432.4,231.5 433.0,232.2 433.6,232.9 434.2,233.6 434.7,234.1 436.5,234.6 438.4,233.9 439.5,232.3 439.4,230.3 438.2,228.8 437.6,228.6 436.9,228.3 435.8,227.9 434.6,227.4 433.3,227.0 431.9,226.8 430.6,226.8 429.3,226.9 428.0,227.1 426.7,227.3 425.4,227.7 424.2,228.2 423.0,228.8 421.8,229.4 420.7,230.2 419.6,231.1 418.6,232.1 417.8,233.3 417.1,234.6 416.5,235.9 416.0,237.4 415.7,238.9 415.4,240.4 415.3,242.0 415.2,243.5 415.3,245.1 415.5,246.8 415.8,248.5 416.2,250.1 416.8,251.8 417.5,253.4 418.3,255.0 419.3,256.6 420.4,258.1 421.6,259.6 422.9,261.0 424.3,262.2 425.8,263.4 427.3,264.5 429.0,265.4 430.7,266.3 432.5,267.1 434.3,267.8 436.3,268.4 438.2,268.9 440.2,269.4 442.3,269.7 444.3,270.0 446.4,270.1 448.6,270.2 450.7,270.2 452.9,270.1 455.0,270.0 457.3,269.7 459.5,269.4 461.9,269.1 464.2,268.6 466.6,268.1 468.9,267.6 471.2,266.9 473.5,266.2 475.7,265.5 477.9,264.7 480.0,263.8 482.1,262.9 484.2,262.0 486.2,261.0 488.3,260.0 490.3,258.9 492.3,257.8 494.3,256.6 496.2,255.3 498.0,254.0 499.7,252.6 501.3,251.2 502.9,249.7 504.5,248.2 505.9,246.6 507.4,245.0 508.8,243.3 510.1,241.5 511.4,239.7 512.6,237.9 513.7,236.0 514.9,234.1 515.9,232.2 516.9,230.2 517.9,228.2 518.8,226.2 519.6,224.3 520.4,222.3 521.1,220.3 521.8,218.4 522.4,216.4 523.0,214.5 523.6,212.6 524.2,210.7 524.7,208.7 525.3,206.8 525.8,204.9 526.3,203.0 526.8,201.2 527.3,199.3 527.7,197.5 528.2,195.8 528.6,194.2 529.1,192.6 529.6,191.1 530.1,189.7 530.7,188.3 531.3,186.9 531.9,185.6 532.5,184.3 533.2,183.1 533.8,181.9 534.5,180.8 535.1,179.8 535.8,178.8 536.4,177.9 537.1,177.0 537.7,176.3 538.3,175.6 538.9,175.0 539.5,174.3 540.2,173.5 540.9,172.7 541.6,171.8 542.4,170.7 543.2,169.7 543.9,168.7 544.6,167.8 545.0,167.2 546.0,164.0 544.9,160.8 542.2,158.9 538.8,159.0Z"/>
<path d="M440.0,235.6 440.3,237.7 440.0,239.8 439.0,241.6 437.6,242.9 435.9,243.8 434.0,243.9 432.1,243.4 430.4,242.3 429.1,240.7 428.3,238.8 428.0,236.7 428.4,234.6 429.3,232.8 430.7,231.5 432.4,230.7 434.3,230.5 436.2,231.0 437.9,232.1 439.2,233.7Z"/>
<path d="M545.8,166.3 543.9,168.4 541.8,170.1 539.6,171.0 537.5,171.1 535.8,170.5 534.7,169.1 534.2,167.1 534.4,164.7 535.2,162.1 536.7,159.6 538.6,157.5 540.8,155.9 543.0,154.9 545.0,154.8 546.7,155.5 547.9,156.9 548.4,158.9 548.2,161.2 547.3,163.8Z"/>
<path d="M1725.5,92.4 1725.2,93.0 1724.9,93.8 1724.4,94.7 1724.0,95.6 1723.4,96.5 1722.8,97.2 1722.1,97.9 1721.2,98.6 1720.2,99.3 1719.1,99.9 1718.0,100.5 1716.8,101.0 1715.7,101.5 1714.4,101.9 1713.1,102.3 1711.8,102.6 1710.4,102.9 1709.1,103.1 1707.7,103.3 1706.2,103.5 1704.8,103.7 1703.3,103.8 1701.8,103.9 1700.3,104.0 1698.8,104.0 1697.3,104.0 1695.9,104.0 1694.4,103.9 1693.0,103.8 1691.6,103.7 1690.2,103.5 1688.8,103.2 1687.4,102.9 1685.9,102.5 1684.4,102.2 1682.8,101.8 1681.2,101.4 1679.6,101.0 1677.9,100.6 1676.2,100.2 1674.4,99.8 1672.7,99.5 1671.0,99.1 1669.2,98.8 1667.5,98.5 1665.8,98.3 1664.1,98.0 1662.5,97.8 1660.8,97.6 1659.1,97.4 1657.4,97.2 1655.6,97.1 1653.9,96.9 1652.1,96.8 1650.4,96.7 1648.7,96.6 1646.9,96.5 1645.2,96.5 1643.4,96.5 1641.7,96.5 1639.9,96.5 1638.2,96.5 1636.4,96.6 1634.7,96.7 1632.9,96.8 1631.2,97.0 1629.5,97.1 1627.8,97.3 1626.0,97.4 1624.3,97.6 1622.5,97.9 1620.7,98.2 1618.9,98.6 1617.1,99.1 1615.4,99.6 1613.6,100.1 1611.8,100.8 1610.1,101.4 1608.3,102.1 1606.5,102.9 1604.7,103.7 1603.0,104.5 1601.2,105.5 1599.4,106.5 1597.8,107.6 1596.1,108.8 1594.5,110.1 1593.0,111.4 1591.4,112.7 1590.0,114.0 1588.5,115.4 1587.0,116.8 1585.6,118.3 1584.2,119.9 1582.8,121.4 1581.6,123.1 1580.4,124.8 1579.2,126.6 1578.2,128.4 1577.2,130.2 1576.2,132.0 1575.4,133.8 1574.6,135.5 1573.8,137.3 1573.2,139.2 1572.6,141.0 1572.0,142.8 1571.6,144.5 1571.3,146.3 1571.2,148.0 1571.1,149.7 1571.1,151.3 1571.2,152.9 1571.4,154.4 1571.7,155.9 1572.1,157.3 1572.6,158.6 1573.1,159.9 1573.8,161.1 1574.6,162.3 1575.4,163.4 1576.3,164.4 1577.3,165.4 1578.4,166.3 1579.6,167.1 1580.8,167.8 1582.1,168.4 1583.6,168.9 1585.0,169.3 1586.6,169.6 1588.2,169.8 1589.7,169.9 1591.4,169.8 1593.0,169.6 1594.7,169.3 1596.3,169.0 1598.0,168.5 1599.5,167.9 1601.0,167.3 1602.5,166.6 1603.9,165.9 1605.4,165.0 1606.7,164.1 1608.1,163.1 1609.4,162.0 1610.7,160.9 1612.0,159.6 1613.2,158.4 1614.4,157.1 1615.5,155.7 1616.5,154.3 1617.5,152.9 1618.4,151.4 1619.2,150.0 1620.0,148.6 1620.6,147.3 1621.2,146.1 1621.8,145.0 1622.2,143.9 1622.6,142.8 1622.9,141.7 1623.1,140.7 1623.0,139.5 1622.9,138.5 1622.6,137.6 1622.2,136.7 1621.9,136.1 1621.8,135.6 1621.2,135.7 1621.1,136.2 1621.1,137.0 1621.1,137.8 1621.0,138.6 1620.9,139.5 1620.7,140.2 1620.4,141.0 1620.0,141.8 1619.5,142.7 1619.0,143.6 1618.4,144.6 1617.8,145.8 1617.1,147.0 1616.3,148.3 1615.5,149.6 1614.6,151.0 1613.7,152.3 1612.8,153.6 1611.8,154.8 1610.7,156.0 1609.5,157.2 1608.4,158.3 1607.2,159.4 1606.0,160.4 1604.8,161.3 1603.5,162.1 1602.2,162.9 1601.0,163.6 1599.6,164.2 1598.3,164.7 1596.9,165.2 1595.5,165.6 1594.0,166.0 1592.5,166.2 1591.1,166.4 1589.8,166.4 1588.5,166.3 1587.2,166.1 1585.9,165.8 1584.7,165.5 1583.5,165.0 1582.5,164.5 1581.5,163.9 1580.6,163.3 1579.7,162.6 1578.9,161.9 1578.2,161.1 1577.6,160.2 1577.0,159.3 1576.5,158.3 1576.0,157.3 1575.7,156.2 1575.4,155.1 1575.2,153.9 1575.1,152.6 1575.1,151.2 1575.1,149.8 1575.3,148.4 1575.5,146.9 1575.8,145.5 1576.2,144.0 1576.8,142.4 1577.4,140.8 1578.1,139.2 1578.9,137.6 1579.8,135.9 1580.6,134.3 1581.6,132.6 1582.6,131.0 1583.6,129.4 1584.7,127.8 1585.8,126.3 1586.9,124.8 1588.2,123.4 1589.5,122.0 1590.8,120.7 1592.2,119.4 1593.6,118.1 1595.1,116.8 1596.5,115.6 1598.0,114.5 1599.4,113.4 1600.9,112.3 1602.4,111.4 1604.0,110.5 1605.5,109.7 1607.2,108.9 1608.8,108.2 1610.5,107.5 1612.1,106.9 1613.8,106.4 1615.4,105.9 1617.0,105.4 1618.6,105.1 1620.2,104.7 1621.8,104.4 1623.4,104.2 1625.0,104.0 1626.6,103.9 1628.3,103.8 1629.9,103.7 1631.6,103.7 1633.3,103.6 1634.9,103.6 1636.6,103.6 1638.2,103.6 1639.8,103.7 1641.5,103.8 1643.1,103.9 1644.7,104.0 1646.4,104.2 1648.0,104.4 1649.7,104.6 1651.3,104.9 1652.9,105.1 1654.6,105.4 1656.2,105.7 1657.9,105.9 1659.6,106.2 1661.3,106.5 1663.0,106.7 1664.7,106.9 1666.4,107.1 1668.0,107.3 1669.7,107.5 1671.4,107.7 1673.0,107.9 1674.7,108.1 1676.5,108.3 1678.2,108.6 1679.9,108.8 1681.6,109.0 1683.1,109.2 1684.7,109.4 1686.3,109.6 1687.8,109.7 1689.4,109.9 1691.1,110.0 1692.7,110.0 1694.3,110.0 1695.9,110.0 1697.5,109.9 1699.1,109.8 1700.7,109.7 1702.2,109.5 1703.8,109.3 1705.4,109.1 1707.1,108.8 1708.6,108.5 1710.2,108.1 1711.7,107.6 1713.1,107.1 1714.6,106.6 1716.0,106.0 1717.3,105.4 1718.7,104.7 1719.9,103.9 1721.1,103.1 1722.3,102.2 1723.4,101.3 1724.3,100.3 1725.2,99.4 1726.1,98.3 1726.7,97.1 1727.3,96.0 1727.7,95.0 1728.0,94.2 1728.3,93.6 1728.4,92.7 1727.9,91.9 1727.1,91.5 1726.1,91.7Z"/>
<path d="M1693.5,92.1 1692.9,92.1 1691.9,92.0 1690.8,91.9 1689.6,91.9 1688.3,91.9 1687.0,92.1 1685.9,92.4 1684.7,92.8 1683.5,93.3 1682.3,93.8 1681.2,94.4 1680.0,95.0 1678.9,95.7 1677.8,96.4 1676.7,97.2 1675.7,98.0 1674.6,98.9 1673.6,99.7 1672.5,100.5 1671.5,101.3 1670.5,102.1 1669.4,103.0 1668.3,103.9 1667.3,105.0 1666.1,106.2 1665.0,107.4 1663.9,108.7 1662.8,110.1 1661.7,111.4 1660.6,112.8 1659.6,114.2 1658.5,115.7 1657.5,117.1 1656.5,118.6 1655.5,120.2 1654.5,121.8 1653.5,123.4 1652.6,125.0 1651.7,126.7 1650.8,128.4 1650.0,130.1 1649.1,131.8 1648.2,133.6 1647.3,135.4 1646.5,137.2 1645.6,139.1 1644.7,141.0 1643.9,142.9 1643.0,144.9 1642.2,146.9 1641.4,149.0 1640.6,151.0 1639.8,153.1 1639.0,155.1 1638.2,157.1 1637.4,159.2 1636.7,161.2 1635.9,163.2 1635.1,165.2 1634.4,167.1 1633.6,169.2 1632.8,171.2 1632.0,173.2 1631.2,175.2 1630.4,177.2 1629.6,179.1 1628.8,181.0 1628.0,182.9 1627.1,184.7 1626.3,186.5 1625.5,188.3 1624.6,190.0 1623.7,191.7 1622.8,193.4 1621.9,195.1 1620.9,196.8 1619.9,198.4 1618.9,200.1 1617.9,201.7 1616.8,203.2 1615.8,204.8 1614.6,206.3 1613.5,207.8 1612.3,209.3 1611.0,210.9 1609.7,212.4 1608.3,213.9 1606.9,215.4 1605.5,216.8 1604.0,218.2 1602.5,219.5 1600.9,220.8 1599.3,222.1 1597.6,223.3 1595.9,224.5 1594.2,225.5 1592.3,226.6 1590.4,227.6 1588.4,228.5 1586.5,229.4 1584.5,230.1 1582.6,230.7 1580.6,231.2 1578.7,231.6 1576.7,231.9 1574.8,232.1 1572.9,232.1 1571.2,232.0 1569.4,231.8 1567.7,231.5 1566.0,231.0 1564.3,230.5 1562.8,229.8 1561.4,229.1 1560.1,228.2 1558.8,227.3 1557.7,226.2 1556.6,225.1 1555.7,223.9 1554.8,222.7 1554.1,221.5 1553.5,220.2 1552.9,218.8 1552.5,217.5 1552.2,216.2 1552.0,214.9 1551.9,213.6 1551.9,212.4 1552.0,211.1 1552.3,209.8 1552.6,208.7 1552.9,207.7 1553.4,206.8 1554.0,205.9 1554.7,205.1 1555.4,204.3 1556.3,203.6 1557.1,203.1 1558.0,202.6 1558.9,202.2 1560.0,201.9 1561.0,201.7 1561.9,201.7 1562.7,201.8 1563.4,202.1 1564.1,202.6 1564.9,203.2 1565.6,203.9 1566.4,204.6 1567.0,205.1 1568.9,205.4 1570.6,204.5 1571.5,202.8 1571.3,200.9 1569.9,199.5 1569.3,199.3 1568.4,199.1 1567.2,198.7 1565.9,198.3 1564.5,198.0 1563.0,197.9 1561.7,198.0 1560.4,198.3 1559.1,198.6 1557.8,199.1 1556.5,199.6 1555.4,200.3 1554.3,201.0 1553.3,201.8 1552.3,202.8 1551.3,203.8 1550.5,205.0 1549.8,206.2 1549.3,207.6 1548.8,209.0 1548.5,210.5 1548.3,212.1 1548.3,213.7 1548.3,215.3 1548.6,216.9 1548.9,218.5 1549.4,220.1 1550.0,221.7 1550.7,223.3 1551.6,224.7 1552.5,226.2 1553.6,227.6 1554.9,229.0 1556.2,230.3 1557.7,231.5 1559.3,232.6 1561.0,233.5 1562.8,234.3 1564.7,235.0 1566.7,235.6 1568.7,236.0 1570.8,236.3 1572.9,236.4 1575.0,236.4 1577.2,236.2 1579.4,235.9 1581.6,235.5 1583.7,235.0 1585.9,234.4 1588.1,233.7 1590.3,232.8 1592.4,231.9 1594.5,231.0 1596.6,230.0 1598.6,229.0 1600.5,227.9 1602.4,226.8 1604.3,225.6 1606.2,224.4 1608.0,223.1 1609.8,221.8 1611.5,220.4 1613.2,219.0 1614.9,217.6 1616.5,216.2 1618.0,214.7 1619.6,213.3 1621.0,211.8 1622.5,210.4 1623.9,208.8 1625.3,207.3 1626.6,205.7 1627.9,204.1 1629.3,202.4 1630.5,200.8 1631.8,199.0 1633.0,197.3 1634.1,195.5 1635.3,193.6 1636.4,191.7 1637.4,189.8 1638.4,187.9 1639.4,186.0 1640.3,184.0 1641.3,182.0 1642.2,179.9 1643.1,177.8 1644.0,175.7 1644.9,173.7 1645.7,171.6 1646.5,169.5 1647.3,167.5 1648.1,165.4 1648.8,163.3 1649.5,161.3 1650.2,159.3 1651.0,157.2 1651.7,155.1 1652.4,153.1 1653.1,151.0 1653.8,149.0 1654.5,147.1 1655.2,145.1 1655.8,143.2 1656.5,141.3 1657.1,139.5 1657.8,137.6 1658.4,135.8 1659.1,134.0 1659.7,132.3 1660.3,130.5 1660.9,128.8 1661.5,127.2 1662.1,125.6 1662.8,124.0 1663.4,122.4 1664.1,120.8 1664.8,119.3 1665.5,117.7 1666.2,116.2 1666.9,114.7 1667.7,113.2 1668.4,111.8 1669.2,110.4 1670.0,109.0 1670.7,107.8 1671.5,106.7 1672.2,105.7 1673.0,104.7 1673.8,103.8 1674.7,102.9 1675.6,102.0 1676.5,101.1 1677.4,100.2 1678.4,99.3 1679.4,98.5 1680.3,97.8 1681.3,97.1 1682.3,96.4 1683.4,95.8 1684.4,95.2 1685.5,94.7 1686.5,94.3 1687.5,93.9 1688.5,93.6 1689.7,93.3 1690.9,93.1 1692.0,92.9 1692.9,92.8 1693.6,92.7Z"/>
<path d="M1572.6,206.2 1572.9,208.3 1572.5,210.3 1571.7,212.1 1570.3,213.5 1568.6,214.2 1566.8,214.4 1565.0,213.9 1563.3,212.8 1562.0,211.2 1561.2,209.3 1561.0,207.2 1561.3,205.2 1562.2,203.4 1563.5,202.1 1565.2,201.3 1567.0,201.1 1568.9,201.6 1570.5,202.7 1571.8,204.3Z"/>
<path d="M1415.6,167.0 1416.7,166.2 1418.2,165.2 1420.1,163.9 1422.0,162.4 1424.1,160.9 1426.0,159.2 1427.9,157.5 1429.9,155.7 1431.9,153.8 1433.8,151.8 1435.8,149.6 1437.7,147.4 1439.6,145.1 1441.4,142.6 1443.2,140.1 1444.9,137.5 1446.6,134.9 1448.1,132.3 1449.6,129.7 1451.0,127.1 1452.3,124.5 1453.5,121.9 1454.6,119.4 1455.5,117.0 1456.2,114.8 1456.9,112.6 1457.4,110.6 1457.7,108.6 1457.9,106.7 1457.9,105.0 1457.7,103.2 1457.3,101.6 1456.7,100.1 1455.9,98.8 1455.0,97.7 1453.8,96.8 1452.5,96.3 1451.2,96.1 1449.7,96.3 1448.2,96.7 1446.6,97.4 1444.9,98.3 1443.2,99.6 1441.4,101.1 1439.5,102.9 1437.6,104.9 1435.6,107.1 1433.7,109.5 1431.8,112.0 1429.8,114.7 1427.9,117.5 1426.0,120.5 1424.1,123.6 1422.3,126.9 1420.6,130.2 1418.9,133.7 1417.2,137.3 1415.6,141.0 1414.1,144.6 1412.6,148.1 1411.1,151.7 1409.7,155.3 1408.3,158.9 1407.0,162.6 1405.7,166.1 1404.6,169.6 1403.6,173.1 1402.7,176.5 1401.9,179.8 1401.2,183.1 1400.6,186.2 1400.2,189.1 1399.9,191.9 1399.6,194.5 1399.5,197.1 1399.6,199.6 1399.8,202.1 1400.3,204.6 1401.1,207.0 1402.1,209.2 1403.3,211.2 1404.6,213.1 1406.0,214.7 1407.4,216.1 1409.0,217.4 1410.7,218.5 1412.5,219.4 1414.3,220.0 1416.2,220.4 1418.0,220.5 1419.9,220.2 1421.6,219.6 1423.1,218.8 1424.6,217.8 1425.9,216.7 1427.2,215.5 1428.5,214.0 1429.8,212.3 1431.1,210.4 1432.2,208.6 1433.1,207.1 1433.7,206.1 1433.9,205.6 1433.7,205.2 1433.4,204.9 1432.9,204.9 1432.5,205.2 1431.7,206.2 1430.6,207.5 1429.3,209.1 1427.9,210.8 1426.5,212.2 1425.3,213.3 1424.0,214.1 1422.7,214.8 1421.4,215.4 1420.2,215.7 1419.1,215.8 1418.2,215.8 1417.3,215.4 1416.3,214.9 1415.3,214.2 1414.3,213.4 1413.4,212.4 1412.6,211.4 1411.9,210.2 1411.2,208.9 1410.6,207.4 1410.2,205.9 1409.9,204.4 1409.7,202.9 1409.6,201.3 1409.7,199.6 1409.9,197.7 1410.2,195.7 1410.6,193.4 1411.1,190.9 1411.6,188.2 1412.2,185.4 1412.9,182.4 1413.6,179.3 1414.5,176.1 1415.4,172.9 1416.4,169.6 1417.5,166.2 1418.7,162.6 1419.9,159.1 1421.1,155.5 1422.4,151.9 1423.7,148.3 1424.9,144.6 1426.2,141.0 1427.5,137.4 1428.9,133.9 1430.2,130.6 1431.6,127.4 1433.0,124.3 1434.4,121.2 1435.9,118.3 1437.4,115.6 1438.8,113.0 1440.3,110.7 1441.8,108.4 1443.4,106.4 1444.9,104.5 1446.3,102.9 1447.6,101.7 1448.7,100.7 1449.7,100.0 1450.6,99.6 1451.3,99.4 1451.9,99.3 1452.4,99.4 1452.8,99.8 1453.3,100.4 1453.6,101.4 1453.9,102.5 1454.1,103.8 1454.1,105.0 1454.0,106.4 1453.8,108.0 1453.4,109.7 1452.9,111.5 1452.3,113.4 1451.5,115.5 1450.6,117.7 1449.6,120.1 1448.4,122.6 1447.1,125.1 1445.8,127.7 1444.4,130.2 1443.0,132.7 1441.4,135.3 1439.8,137.8 1438.2,140.4 1436.5,142.8 1434.8,145.1 1433.0,147.3 1431.2,149.4 1429.4,151.4 1427.5,153.4 1425.7,155.3 1424.0,157.0 1422.2,158.7 1420.4,160.4 1418.5,162.0 1416.9,163.4 1415.4,164.6 1414.4,165.5 1414.0,166.0 1414.1,166.6 1414.4,167.1 1415.0,167.2Z"/>
<path d="M1442.6,163.1 1443.2,162.6 1443.9,161.9 1444.8,161.0 1445.7,160.2 1446.7,159.5 1447.5,159.0 1448.5,158.6 1449.5,158.2 1450.4,158.0 1450.9,158.1 1450.7,158.4 1450.1,158.5 1449.8,158.9 1449.8,159.8 1449.8,161.0 1449.7,162.3 1449.5,163.7 1449.4,165.1 1449.2,166.7 1448.8,168.7 1448.4,171.1 1448.0,173.7 1447.5,176.4 1447.1,179.1 1446.7,181.6 1446.3,184.2 1445.8,186.8 1445.4,189.4 1445.1,192.0 1444.9,194.5 1444.8,196.7 1444.8,198.9 1444.8,201.0 1445.0,203.1 1445.3,205.1 1445.8,207.1 1446.6,209.1 1447.4,210.9 1448.5,212.7 1449.7,214.4 1451.2,215.8 1453.0,216.9 1455.0,217.4 1456.8,217.3 1458.6,216.8 1460.2,216.1 1461.8,215.2 1463.4,214.1 1464.9,212.8 1466.5,211.3 1468.1,209.6 1469.7,207.8 1471.2,205.8 1472.8,203.8 1474.4,201.4 1476.1,198.7 1477.7,195.9 1479.3,193.2 1480.6,190.9 1481.5,189.3 1481.6,188.7 1481.4,188.1 1480.8,187.8 1480.2,187.8 1479.8,188.2 1478.8,189.9 1477.5,192.1 1475.9,194.8 1474.3,197.6 1472.6,200.2 1471.0,202.5 1469.4,204.4 1467.8,206.2 1466.2,207.8 1464.6,209.3 1463.1,210.5 1461.6,211.4 1460.2,212.0 1458.9,212.4 1457.7,212.5 1456.7,212.4 1456.0,212.2 1455.7,211.8 1455.6,211.4 1455.2,210.6 1454.9,209.5 1454.6,208.2 1454.3,206.7 1454.2,205.4 1454.1,204.1 1454.2,202.7 1454.3,201.1 1454.5,199.4 1454.8,197.5 1455.1,195.5 1455.4,193.4 1455.9,191.2 1456.4,188.7 1456.9,186.1 1457.5,183.5 1457.9,180.9 1458.4,178.4 1458.9,175.8 1459.5,173.1 1459.9,170.3 1460.2,167.6 1460.1,164.9 1459.6,162.4 1458.8,160.1 1457.8,158.2 1456.6,156.5 1455.2,155.2 1453.7,154.0 1451.6,153.4 1449.8,153.9 1448.6,154.7 1447.7,155.6 1446.9,156.4 1446.2,157.2 1445.4,158.1 1444.6,159.1 1443.7,160.1 1443.0,161.0 1442.3,161.8 1441.9,162.4Z"/>
<path d="M1485.8,151.4 1485.4,152.7 1484.8,154.4 1484.2,156.5 1483.5,158.8 1482.8,161.1 1482.1,163.3 1481.5,165.5 1480.8,167.7 1480.1,170.0 1479.4,172.3 1478.6,174.7 1477.9,177.0 1477.1,179.5 1476.3,181.9 1475.4,184.4 1474.6,187.0 1473.7,189.5 1472.9,192.0 1472.1,194.5 1471.3,197.0 1470.5,199.5 1469.7,201.9 1468.9,204.5 1468.0,207.0 1467.2,209.7 1466.3,212.4 1465.4,215.1 1464.5,217.8 1463.6,220.5 1462.7,223.3 1461.8,226.0 1460.9,228.7 1460.0,231.4 1459.0,234.1 1458.1,236.8 1457.1,239.5 1456.1,242.3 1455.0,245.1 1454.0,247.9 1452.9,250.7 1451.8,253.3 1450.7,255.8 1449.5,258.2 1448.3,260.6 1447.0,262.9 1445.7,265.1 1444.4,267.2 1443.1,269.0 1441.8,270.8 1440.4,272.4 1439.1,273.8 1437.9,275.1 1436.6,276.1 1435.5,276.8 1434.3,277.2 1433.1,277.5 1432.0,277.5 1430.9,277.4 1429.9,277.1 1429.1,276.7 1428.5,276.1 1427.8,275.2 1427.2,274.0 1426.7,272.7 1426.3,271.3 1426.1,269.9 1426.1,268.4 1426.2,266.8 1426.5,265.0 1427.0,263.2 1427.6,261.3 1428.4,259.4 1429.3,257.5 1430.4,255.5 1431.7,253.5 1433.2,251.4 1434.7,249.3 1436.2,247.2 1437.8,245.0 1439.4,242.9 1441.1,240.7 1442.9,238.6 1444.7,236.5 1446.5,234.7 1448.5,232.8 1450.7,231.0 1452.9,229.2 1455.0,227.5 1456.8,226.2 1458.1,225.2 1456.9,223.6 1455.6,224.5 1453.7,225.8 1451.6,227.4 1449.2,229.1 1446.9,231.0 1444.8,232.8 1442.8,234.8 1440.9,236.8 1439.0,238.9 1437.2,241.1 1435.5,243.2 1433.8,245.3 1432.2,247.4 1430.6,249.6 1429.1,251.7 1427.7,253.8 1426.5,256.0 1425.4,258.1 1424.5,260.2 1423.8,262.2 1423.2,264.3 1422.8,266.3 1422.6,268.2 1422.6,270.1 1422.9,272.0 1423.3,273.8 1424.0,275.5 1424.8,277.0 1425.9,278.4 1427.1,279.5 1428.5,280.3 1430.1,280.9 1431.8,281.1 1433.5,281.1 1435.3,280.8 1437.0,280.2 1438.7,279.4 1440.4,278.3 1442.0,277.0 1443.7,275.5 1445.3,273.9 1446.9,272.2 1448.6,270.4 1450.2,268.4 1451.9,266.2 1453.6,264.0 1455.2,261.6 1456.8,259.2 1458.4,256.6 1459.9,254.0 1461.3,251.2 1462.7,248.5 1464.1,245.7 1465.4,243.0 1466.7,240.3 1467.9,237.6 1469.0,234.9 1470.2,232.1 1471.2,229.4 1472.3,226.7 1473.4,224.0 1474.4,221.3 1475.4,218.5 1476.4,215.8 1477.3,213.1 1478.2,210.5 1479.1,207.9 1480.0,205.4 1480.8,202.9 1481.7,200.4 1482.5,198.0 1483.3,195.5 1484.2,193.0 1485.0,190.5 1485.9,187.9 1486.7,185.4 1487.5,182.9 1488.4,180.5 1489.1,178.1 1489.9,175.7 1490.7,173.4 1491.4,171.1 1492.2,168.9 1492.9,166.7 1493.6,164.5 1494.3,162.2 1495.1,159.9 1495.8,157.9 1496.3,156.1 1496.7,154.9Z"/>
<path d="M229.8,164.9 230.6,164.0 231.8,162.9 233.1,161.6 234.5,160.3 235.8,159.3 237.0,158.4 238.2,157.7 239.5,157.0 240.7,156.4 241.7,155.9 242.6,155.6 243.4,155.4 244.1,155.3 244.8,155.2 245.3,155.1 246.1,154.7 246.5,153.9 246.3,153.0 245.7,152.4 244.8,152.3 244.4,152.4 243.7,152.5 242.8,152.7 241.7,152.9 240.6,153.3 239.5,153.9 238.2,154.5 236.8,155.3 235.4,156.1 234.1,157.0 232.7,158.2 231.2,159.5 229.8,160.9 228.7,162.1 227.9,162.9 227.5,163.6 227.6,164.5 228.2,165.1 229.0,165.2Z"/>
<path d="M243.7,153.3 243.3,153.7 242.9,153.9 242.5,154.2 241.9,154.7 241.3,155.7 240.5,157.3 239.5,159.6 238.4,162.5 237.2,165.9 235.9,169.6 234.6,173.2 233.5,176.6 232.3,180.0 231.1,183.4 229.9,187.0 228.8,190.4 227.8,193.6 227.0,196.4 226.4,198.7 225.9,200.7 225.5,202.5 225.2,204.3 225.0,206.1 225.1,208.0 225.4,209.9 226.0,211.7 226.7,213.3 227.6,214.7 228.5,216.0 229.5,217.1 230.6,218.1 231.8,218.8 233.0,219.4 234.3,219.8 235.5,220.0 236.8,220.0 238.0,219.9 239.1,219.5 240.3,219.1 241.4,218.6 242.5,218.0 243.6,217.3 244.6,216.5 245.6,215.5 246.6,214.4 247.6,213.3 248.4,212.2 249.3,211.3 250.1,210.3 251.0,209.3 251.8,208.3 252.5,207.4 253.1,206.7 253.6,206.2 251.4,204.4 251.0,204.9 250.4,205.7 249.6,206.5 248.8,207.5 248.0,208.5 247.1,209.4 246.3,210.4 245.4,211.5 244.5,212.5 243.6,213.5 242.7,214.4 241.9,215.1 241.1,215.6 240.2,216.1 239.3,216.5 238.4,216.7 237.7,216.7 237.0,216.6 236.4,216.3 235.8,216.0 235.2,215.5 234.7,215.0 234.3,214.4 234.1,213.7 233.9,213.0 233.7,212.0 233.6,211.0 233.6,210.0 233.7,209.0 233.8,208.0 234.0,207.0 234.3,206.0 234.7,204.8 235.2,203.4 235.8,201.5 236.6,199.3 237.5,196.7 238.6,193.7 239.8,190.4 241.0,186.9 242.3,183.4 243.4,180.0 244.6,176.6 245.8,172.9 247.0,169.3 248.1,165.8 249.0,162.8 249.7,160.3 250.0,158.5 250.1,157.2 249.9,156.2 249.7,155.6 249.4,155.2 249.3,154.9Z"/>
<path d="M253.3,138.7 252.0,141.2 250.2,143.2 248.2,144.5 246.1,145.1 244.1,144.8 242.5,143.6 241.4,141.8 240.8,139.4 240.9,136.7 241.7,134.0 243.0,131.5 244.8,129.5 246.8,128.2 248.9,127.6 250.9,128.0 252.5,129.1 253.7,130.9 254.2,133.3 254.1,136.0Z"/>
<path d="M259.4,166.7 260.2,166.0 261.2,165.0 262.3,163.9 263.5,162.8 264.6,161.9 265.7,161.1 266.7,160.4 267.8,159.7 268.9,159.2 269.8,158.7 270.6,158.3 271.4,158.0 272.2,157.7 272.8,157.5 273.3,157.4 274.0,156.9 274.3,156.1 274.0,155.2 273.3,154.7 272.5,154.7 272.0,154.9 271.3,155.1 270.5,155.3 269.5,155.7 268.5,156.2 267.5,156.7 266.4,157.3 265.2,158.0 264.0,158.8 262.9,159.7 261.7,160.7 260.4,161.9 259.2,163.0 258.2,164.0 257.5,164.7 257.1,165.5 257.2,166.4 257.8,167.0 258.7,167.1Z"/>
<path d="M274.0,156.0 273.6,157.0 272.9,158.1 272.2,159.4 271.4,160.9 270.6,162.4 269.8,164.2 269.1,166.3 268.3,168.9 267.4,171.8 266.6,174.8 265.8,177.9 265.1,181.0 264.4,184.0 263.8,187.0 263.3,190.1 262.8,193.1 262.4,195.9 262.1,198.5 261.9,200.7 261.8,202.8 261.8,204.6 261.9,206.4 262.1,208.2 262.4,209.8 262.9,211.5 263.5,213.0 264.2,214.4 265.0,215.7 265.9,216.8 267.0,217.8 268.1,218.7 269.3,219.4 270.6,219.9 271.9,220.2 273.2,220.4 274.5,220.5 275.7,220.4 277.0,220.3 278.2,220.1 279.6,219.7 280.8,219.1 282.1,218.4 283.4,217.4 284.6,216.4 285.8,215.2 287.0,213.8 288.1,212.4 289.3,210.9 290.4,209.3 291.5,207.5 292.5,205.6 293.5,203.7 294.5,201.8 295.5,199.9 296.4,197.9 297.3,195.9 298.1,193.9 298.9,191.9 299.6,190.0 300.3,188.2 300.9,186.5 301.5,184.9 302.0,183.3 302.4,181.8 302.8,180.5 303.2,179.3 303.4,178.2 303.6,177.3 303.7,176.5 303.8,175.9 303.9,175.4 304.0,175.1 301.0,174.7 301.0,175.1 300.9,175.6 300.9,176.2 300.8,176.8 300.7,177.6 300.4,178.6 300.1,179.7 299.7,181.0 299.3,182.4 298.8,184.0 298.2,185.6 297.6,187.3 297.0,189.0 296.3,190.9 295.5,192.8 294.7,194.8 293.8,196.8 293.0,198.6 292.0,200.5 291.1,202.4 290.1,204.3 289.0,206.1 288.0,207.7 287.0,209.3 285.9,210.7 284.8,212.0 283.8,213.2 282.7,214.3 281.6,215.3 280.6,216.0 279.6,216.6 278.6,217.1 277.6,217.4 276.6,217.6 275.6,217.6 274.7,217.5 273.9,217.3 273.1,216.9 272.3,216.4 271.6,215.8 271.1,215.2 270.7,214.5 270.4,213.8 270.1,213.0 270.0,212.1 269.8,211.1 269.8,210.1 269.8,209.0 269.9,207.8 270.1,206.6 270.3,205.3 270.6,203.8 271.0,202.0 271.5,200.0 272.0,197.7 272.7,195.1 273.4,192.3 274.2,189.4 274.9,186.5 275.7,183.7 276.5,180.9 277.4,178.0 278.4,175.0 279.2,172.0 280.0,169.2 280.4,166.6 280.5,164.2 280.2,162.0 279.8,160.1 279.3,158.6 278.8,157.4 278.5,156.5Z"/>
<path d="M304.9,167.1 304.2,170.1 303.2,172.7 301.9,174.8 300.5,176.0 299.1,176.3 297.8,175.6 296.7,174.0 296.1,171.7 295.8,168.9 296.0,165.9 296.7,162.9 297.7,160.2 299.0,158.2 300.4,157.0 301.8,156.7 303.1,157.4 304.2,158.9 304.8,161.2 305.1,164.0Z"/>
<path d="M301.4,176.6 301.9,177.1 302.7,177.7 303.6,178.5 304.7,179.3 305.9,179.9 307.1,180.2 308.4,180.4 309.6,180.5 310.9,180.4 312.2,180.1 313.4,179.7 314.6,179.0 315.7,178.3 316.7,177.4 317.6,176.5 318.4,175.4 319.2,174.2 319.8,173.0 320.3,171.9 320.6,170.8 320.8,169.9 320.7,168.9 320.4,168.3 320.2,167.9 320.2,167.7 319.6,167.0 318.8,166.8 318.0,167.2 317.5,167.9 317.6,168.8 317.7,169.1 317.9,169.4 317.9,169.6 318.0,169.8 317.9,170.1 317.7,170.8 317.2,171.8 316.7,172.8 316.1,173.8 315.5,174.6 314.8,175.3 314.0,176.0 313.1,176.6 312.2,177.1 311.4,177.5 310.6,177.6 309.6,177.7 308.6,177.7 307.7,177.5 306.9,177.3 306.2,176.9 305.3,176.3 304.5,175.6 303.8,175.0 303.3,174.5 302.5,174.2 301.6,174.4 301.0,175.0 301.0,175.9Z"/>
<path d="M332.6,188.5 333.3,188.3 334.4,188.2 335.7,187.9 337.0,187.7 338.5,187.3 339.8,187.0 341.1,186.6 342.4,186.1 343.7,185.6 345.0,185.1 346.3,184.5 347.6,183.8 348.8,183.0 349.9,182.2 351.0,181.3 352.1,180.4 353.2,179.6 354.2,178.7 355.3,177.9 356.4,177.0 357.4,176.0 358.4,175.1 359.4,174.1 360.4,173.1 361.3,172.0 362.2,170.9 363.2,169.8 364.1,168.5 364.8,167.1 365.3,165.6 365.5,164.0 365.5,162.5 365.2,161.1 364.8,159.7 364.2,158.5 363.6,157.4 362.8,156.3 362.0,155.4 361.0,154.6 360.0,153.9 359.0,153.4 358.1,153.0 357.1,152.6 356.1,152.4 355.1,152.2 354.2,152.1 353.1,152.0 352.1,152.1 351.1,152.2 350.1,152.5 349.0,152.8 347.9,153.2 346.7,153.6 345.5,154.2 344.3,155.0 343.0,155.8 341.7,156.7 340.3,157.7 339.0,158.8 337.7,159.9 336.3,161.1 334.9,162.4 333.5,163.8 332.1,165.3 330.8,166.8 329.5,168.4 328.4,170.0 327.3,171.6 326.3,173.2 325.4,174.9 324.5,176.5 323.7,178.2 323.0,179.8 322.2,181.5 321.6,183.2 320.9,184.9 320.4,186.6 319.9,188.4 319.5,190.1 319.1,191.8 318.8,193.5 318.6,195.2 318.5,196.8 318.4,198.3 318.5,199.8 318.6,201.2 318.8,202.5 319.1,203.8 319.4,205.0 319.8,206.1 320.3,207.3 320.8,208.6 321.4,209.9 322.1,211.2 322.9,212.5 323.7,213.7 324.6,214.8 325.6,215.8 326.6,216.7 327.6,217.5 328.7,218.2 329.8,218.8 331.0,219.3 332.2,219.7 333.3,219.9 334.5,220.1 335.7,220.1 336.8,220.1 338.0,219.9 339.1,219.6 340.1,219.2 341.1,218.8 342.0,218.3 343.0,217.7 343.9,217.2 344.9,216.5 345.8,215.9 346.8,215.1 347.7,214.4 348.6,213.6 349.4,212.7 350.3,211.7 351.1,210.7 351.9,209.8 352.7,208.8 353.4,207.9 354.1,207.0 354.9,206.1 355.6,205.3 356.2,204.5 356.8,203.8 357.2,203.3 357.5,202.5 357.3,201.7 356.7,201.1 355.8,201.1 355.1,201.5 354.7,202.0 354.1,202.7 353.4,203.4 352.7,204.3 351.9,205.1 351.2,206.0 350.4,206.8 349.6,207.7 348.7,208.6 347.9,209.5 347.1,210.3 346.3,211.0 345.4,211.7 344.6,212.4 343.8,213.0 342.9,213.6 342.1,214.0 341.3,214.4 340.4,214.8 339.6,215.1 338.8,215.3 338.1,215.4 337.4,215.4 336.7,215.4 336.1,215.2 335.4,215.0 334.7,214.8 334.1,214.5 333.5,214.1 333.0,213.7 332.6,213.2 332.1,212.6 331.7,211.9 331.3,211.2 331.0,210.4 330.7,209.7 330.6,208.9 330.4,208.0 330.2,207.0 330.1,205.9 330.0,204.8 329.9,203.7 329.8,202.8 329.8,201.9 329.7,201.1 329.7,200.4 329.8,199.6 329.8,198.7 329.9,197.6 330.0,196.3 330.1,195.0 330.3,193.7 330.5,192.4 330.8,191.0 331.1,189.7 331.5,188.2 331.9,186.8 332.4,185.3 332.9,183.8 333.4,182.2 334.0,180.7 334.6,179.1 335.2,177.6 335.8,176.1 336.4,174.6 337.1,173.1 337.9,171.6 338.7,170.0 339.5,168.4 340.4,166.8 341.3,165.3 342.2,163.9 343.1,162.6 344.0,161.3 344.9,160.1 345.8,159.0 346.7,158.0 347.5,157.2 348.4,156.5 349.2,155.9 350.0,155.5 350.8,155.2 351.7,155.0 352.4,154.9 353.2,154.8 353.9,154.8 354.6,155.0 355.2,155.2 355.7,155.6 356.2,156.0 356.7,156.5 357.1,157.1 357.4,157.8 357.7,158.5 357.8,159.1 357.9,159.7 357.9,160.3 357.8,161.0 357.6,161.8 357.5,162.4 357.3,163.1 357.1,163.7 357.0,164.4 356.8,165.2 356.5,166.3 356.2,167.4 355.8,168.6 355.3,169.8 354.8,170.9 354.3,172.0 353.7,173.1 353.1,174.2 352.4,175.2 351.7,176.3 350.9,177.3 350.1,178.2 349.2,179.2 348.2,180.0 347.2,180.7 346.1,181.4 345.1,182.0 343.9,182.5 342.7,183.0 341.5,183.5 340.2,183.9 339.0,184.3 337.8,184.6 336.5,184.9 335.1,185.2 333.9,185.4 332.8,185.6 332.1,185.7 331.3,186.2 330.9,186.9 331.1,187.8 331.7,188.4Z"/>
<path d="M563.6,188.5 564.4,188.3 565.4,188.2 566.7,187.9 568.1,187.7 569.5,187.3 570.9,187.0 572.1,186.6 573.4,186.1 574.8,185.6 576.1,185.1 577.4,184.5 578.6,183.8 579.8,183.0 581.0,182.2 582.0,181.3 583.1,180.4 584.2,179.6 585.3,178.7 586.3,177.9 587.4,177.0 588.5,176.0 589.5,175.1 590.5,174.1 591.4,173.1 592.3,172.0 593.3,170.9 594.2,169.8 595.1,168.5 595.8,167.1 596.4,165.6 596.6,164.0 596.5,162.5 596.3,161.1 595.8,159.7 595.3,158.5 594.7,157.4 593.9,156.3 593.0,155.4 592.1,154.6 591.1,153.9 590.1,153.4 589.1,153.0 588.2,152.6 587.2,152.4 586.2,152.2 585.2,152.1 584.2,152.0 583.2,152.1 582.2,152.2 581.1,152.5 580.1,152.8 578.9,153.2 577.8,153.6 576.6,154.2 575.3,155.0 574.0,155.8 572.7,156.7 571.4,157.7 570.1,158.8 568.7,159.9 567.4,161.1 566.0,162.4 564.6,163.8 563.2,165.3 561.8,166.8 560.6,168.4 559.4,170.0 558.3,171.6 557.4,173.2 556.4,174.9 555.6,176.5 554.8,178.2 554.0,179.8 553.3,181.5 552.6,183.2 552.0,184.9 551.4,186.6 550.9,188.4 550.5,190.1 550.2,191.8 549.9,193.5 549.7,195.2 549.5,196.8 549.5,198.3 549.5,199.8 549.6,201.2 549.8,202.5 550.1,203.8 550.5,205.0 550.9,206.1 551.3,207.3 551.9,208.6 552.5,209.9 553.2,211.2 553.9,212.5 554.8,213.7 555.7,214.8 556.6,215.8 557.6,216.7 558.7,217.5 559.7,218.2 560.9,218.8 562.0,219.3 563.2,219.7 564.4,219.9 565.6,220.1 566.7,220.1 567.9,220.1 569.0,219.9 570.1,219.6 571.1,219.2 572.1,218.8 573.1,218.3 574.0,217.7 575.0,217.2 575.9,216.5 576.9,215.9 577.8,215.1 578.7,214.4 579.6,213.6 580.5,212.7 581.4,211.7 582.2,210.7 583.0,209.8 583.7,208.8 584.5,207.9 585.2,207.0 585.9,206.1 586.6,205.3 587.3,204.5 587.9,203.8 588.3,203.3 588.6,202.5 588.4,201.7 587.7,201.1 586.9,201.1 586.1,201.5 585.7,202.0 585.2,202.7 584.5,203.4 583.8,204.3 583.0,205.1 582.2,206.0 581.4,206.8 580.6,207.7 579.8,208.6 578.9,209.5 578.1,210.3 577.3,211.0 576.5,211.7 575.6,212.4 574.8,213.0 574.0,213.6 573.1,214.0 572.3,214.4 571.5,214.8 570.7,215.1 569.9,215.3 569.1,215.4 568.4,215.4 567.8,215.4 567.1,215.2 566.4,215.0 565.8,214.8 565.2,214.5 564.6,214.1 564.1,213.7 563.6,213.2 563.2,212.6 562.8,211.9 562.4,211.2 562.1,210.4 561.8,209.7 561.6,208.9 561.4,208.0 561.3,207.0 561.2,205.9 561.1,204.8 561.0,203.7 560.9,202.8 560.8,201.9 560.8,201.1 560.8,200.4 560.8,199.6 560.9,198.7 560.9,197.6 561.0,196.3 561.2,195.0 561.4,193.7 561.6,192.4 561.8,191.0 562.2,189.7 562.5,188.2 563.0,186.8 563.4,185.3 564.0,183.8 564.5,182.2 565.0,180.7 565.6,179.1 566.2,177.6 566.8,176.1 567.5,174.6 568.2,173.1 568.9,171.6 569.7,170.0 570.6,168.4 571.5,166.8 572.4,165.3 573.3,163.9 574.2,162.6 575.1,161.3 576.0,160.1 576.9,159.0 577.7,158.0 578.6,157.2 579.4,156.5 580.2,155.9 581.1,155.5 581.9,155.2 582.7,155.0 583.5,154.9 584.2,154.8 584.9,154.8 585.6,155.0 586.2,155.2 586.8,155.6 587.3,156.0 587.7,156.5 588.2,157.1 588.5,157.8 588.7,158.5 588.9,159.1 588.9,159.7 588.9,160.3 588.8,161.0 588.7,161.8 588.5,162.4 588.3,163.1 588.2,163.7 588.0,164.4 587.9,165.2 587.6,166.3 587.2,167.4 586.8,168.6 586.3,169.8 585.9,170.9 585.3,172.0 584.8,173.1 584.1,174.2 583.5,175.2 582.7,176.3 581.9,177.3 581.1,178.2 580.2,179.2 579.2,180.0 578.2,180.7 577.2,181.4 576.1,182.0 575.0,182.5 573.7,183.0 572.5,183.5 571.3,183.9 570.1,184.3 568.8,184.6 567.5,184.9 566.2,185.2 564.9,185.4 563.9,185.6 563.1,185.7 562.3,186.2 562.0,186.9 562.1,187.8 562.8,188.4Z"/>
<path d="M606.2,164.5 606.9,163.9 607.8,163.2 608.8,162.3 609.9,161.5 610.9,160.7 611.9,160.0 613.0,159.3 614.1,158.7 615.1,158.1 616.1,157.7 617.2,157.3 618.3,157.1 619.4,156.8 620.4,156.7 621.1,156.5 621.9,156.1 622.2,155.3 622.1,154.5 621.4,153.9 620.6,153.8 619.9,153.9 618.9,154.1 617.7,154.3 616.4,154.6 615.1,155.1 613.9,155.6 612.7,156.3 611.5,156.9 610.4,157.7 609.3,158.4 608.1,159.2 607.0,160.2 605.9,161.1 605.1,161.8 604.4,162.3 604.0,163.1 604.0,163.9 604.6,164.6 605.4,164.8Z"/>
<path d="M618.3,154.2 617.8,155.4 617.2,157.0 616.4,158.9 615.5,161.3 614.7,164.1 613.7,167.6 612.8,171.5 611.8,175.8 610.7,180.0 609.6,184.0 608.3,188.0 606.8,192.0 605.3,196.1 603.8,200.1 602.4,203.9 601.1,207.6 599.7,211.2 598.4,214.5 597.3,217.3 596.5,219.3 609.5,219.3 609.7,218.7 610.9,215.3 612.2,211.6 613.5,208.0 614.9,204.2 616.3,200.2 617.9,195.9 619.3,191.6 620.6,187.2 621.7,182.8 622.8,178.3 623.6,173.9 624.4,169.9 625.0,166.5 625.4,163.6 625.7,161.1 625.9,159.0 626.0,157.3 626.1,156.1Z"/>
<path d="M618.3,181.1 619.0,180.2 619.9,179.0 621.0,177.5 622.2,176.0 623.5,174.4 624.7,173.0 625.9,171.6 627.1,170.3 628.5,168.9 629.8,167.5 631.1,166.2 632.4,165.0 633.6,163.8 634.9,162.7 636.1,161.7 637.3,160.7 638.5,159.8 639.6,159.0 640.7,158.3 641.8,157.7 642.9,157.2 643.9,156.8 644.7,156.7 645.5,156.8 646.2,157.0 646.9,157.4 647.4,157.8 647.7,158.3 647.7,158.7 647.6,159.0 647.6,159.4 647.6,160.1 647.6,160.9 647.6,161.8 647.5,162.8 647.3,163.6 647.1,164.5 646.8,165.5 646.4,166.8 645.8,168.3 645.2,170.0 644.6,171.8 643.9,173.7 643.3,175.6 642.6,177.6 641.9,179.7 641.2,181.8 640.5,183.8 639.8,185.8 639.0,187.8 638.2,189.9 637.4,192.0 636.6,194.0 635.9,195.9 635.3,197.7 634.7,199.4 634.1,201.1 633.6,202.7 633.1,204.4 632.7,205.9 632.5,207.4 632.4,208.7 632.3,210.0 632.4,211.4 632.6,212.8 633.0,214.1 633.6,215.3 634.4,216.4 635.3,217.4 636.3,218.2 637.4,218.8 638.6,219.3 639.8,219.4 641.0,219.5 642.1,219.4 643.4,219.1 644.6,218.8 645.9,218.3 647.1,217.7 648.4,216.8 649.6,215.9 650.9,214.8 652.2,213.7 653.5,212.5 655.0,211.1 656.6,209.4 658.3,207.6 659.9,205.9 661.3,204.5 662.2,203.5 662.6,202.7 662.4,201.9 661.8,201.3 660.9,201.2 660.2,201.6 659.2,202.6 657.9,204.0 656.3,205.7 654.6,207.5 653.0,209.1 651.6,210.5 650.3,211.6 649.0,212.7 647.9,213.7 646.7,214.6 645.7,215.2 644.7,215.8 643.8,216.1 642.9,216.3 642.0,216.3 641.2,216.2 640.6,215.9 640.2,215.6 640.0,215.3 639.8,214.8 639.8,214.3 639.7,213.7 639.8,213.1 639.9,212.7 640.1,212.3 640.3,211.9 640.6,211.3 641.0,210.6 641.4,209.7 641.8,208.6 642.3,207.5 642.9,206.2 643.6,204.8 644.3,203.2 645.0,201.5 645.8,199.7 646.6,197.9 647.4,195.9 648.3,193.9 649.1,191.8 649.9,189.6 650.7,187.5 651.5,185.4 652.2,183.2 652.9,181.1 653.6,179.0 654.2,176.9 654.8,175.1 655.3,173.4 655.9,171.7 656.4,170.0 656.9,168.2 657.3,166.3 657.4,164.3 657.3,162.3 657.0,160.5 656.4,158.8 655.7,157.1 654.8,155.6 653.6,154.3 652.2,153.2 650.6,152.6 649.1,152.4 647.7,152.4 646.3,152.6 645.1,152.9 643.8,153.3 642.7,153.9 641.5,154.5 640.4,155.2 639.2,155.9 638.1,156.7 636.9,157.5 635.6,158.5 634.3,159.5 633.0,160.6 631.7,161.7 630.4,162.9 629.1,164.2 627.8,165.5 626.4,166.9 625.1,168.3 623.8,169.8 622.6,171.2 621.3,172.6 620.0,174.2 618.8,175.8 617.7,177.2 616.8,178.5 616.1,179.3 615.8,180.2 616.0,181.0 616.7,181.5 617.6,181.6Z"/>
<path d="M683.0,188.5 683.7,188.3 684.8,188.2 686.1,187.9 687.4,187.7 688.9,187.3 690.2,187.0 691.5,186.6 692.8,186.1 694.1,185.6 695.4,185.1 696.7,184.5 698.0,183.8 699.2,183.0 700.3,182.2 701.4,181.3 702.5,180.4 703.6,179.6 704.6,178.7 705.7,177.9 706.8,177.0 707.8,176.0 708.8,175.1 709.8,174.1 710.8,173.1 711.7,172.0 712.6,170.9 713.6,169.8 714.5,168.5 715.2,167.1 715.7,165.6 715.9,164.0 715.9,162.5 715.6,161.1 715.2,159.7 714.6,158.5 714.0,157.4 713.2,156.3 712.4,155.4 711.4,154.6 710.4,153.9 709.4,153.4 708.5,153.0 707.5,152.6 706.5,152.4 705.5,152.2 704.6,152.1 703.5,152.0 702.5,152.1 701.5,152.2 700.5,152.5 699.4,152.8 698.3,153.2 697.1,153.6 695.9,154.2 694.7,155.0 693.4,155.8 692.1,156.7 690.7,157.7 689.4,158.8 688.1,159.9 686.7,161.1 685.3,162.4 683.9,163.8 682.5,165.3 681.2,166.8 679.9,168.4 678.8,170.0 677.7,171.6 676.7,173.2 675.8,174.9 674.9,176.5 674.1,178.2 673.4,179.8 672.6,181.5 672.0,183.2 671.3,184.9 670.8,186.6 670.3,188.4 669.9,190.1 669.5,191.8 669.2,193.5 669.0,195.2 668.9,196.8 668.8,198.3 668.9,199.8 669.0,201.2 669.2,202.5 669.5,203.8 669.8,205.0 670.2,206.1 670.7,207.3 671.2,208.6 671.8,209.9 672.5,211.2 673.3,212.5 674.1,213.7 675.0,214.8 676.0,215.8 677.0,216.7 678.0,217.5 679.1,218.2 680.2,218.8 681.4,219.3 682.6,219.7 683.7,219.9 684.9,220.1 686.1,220.1 687.2,220.1 688.4,219.9 689.5,219.6 690.5,219.2 691.5,218.8 692.4,218.3 693.4,217.7 694.3,217.2 695.3,216.5 696.2,215.9 697.2,215.1 698.1,214.4 699.0,213.6 699.8,212.7 700.7,211.7 701.5,210.7 702.3,209.8 703.1,208.8 703.8,207.9 704.5,207.0 705.3,206.1 706.0,205.3 706.6,204.5 707.2,203.8 707.6,203.3 707.9,202.5 707.7,201.7 707.1,201.1 706.2,201.1 705.5,201.5 705.1,202.0 704.5,202.7 703.8,203.4 703.1,204.3 702.3,205.1 701.6,206.0 700.8,206.8 700.0,207.7 699.1,208.6 698.3,209.5 697.5,210.3 696.7,211.0 695.8,211.7 695.0,212.4 694.2,213.0 693.3,213.6 692.5,214.0 691.7,214.4 690.8,214.8 690.0,215.1 689.2,215.3 688.5,215.4 687.8,215.4 687.1,215.4 686.5,215.2 685.8,215.0 685.1,214.8 684.5,214.5 683.9,214.1 683.4,213.7 683.0,213.2 682.5,212.6 682.1,211.9 681.7,211.2 681.4,210.4 681.1,209.7 681.0,208.9 680.8,208.0 680.6,207.0 680.5,205.9 680.4,204.8 680.3,203.7 680.2,202.8 680.2,201.9 680.1,201.1 680.1,200.4 680.2,199.6 680.2,198.7 680.3,197.6 680.4,196.3 680.5,195.0 680.7,193.7 680.9,192.4 681.2,191.0 681.5,189.7 681.9,188.2 682.3,186.8 682.8,185.3 683.3,183.8 683.8,182.2 684.4,180.7 685.0,179.1 685.6,177.6 686.2,176.1 686.8,174.6 687.5,173.1 688.3,171.6 689.1,170.0 689.9,168.4 690.8,166.8 691.7,165.3 692.6,163.9 693.5,162.6 694.4,161.3 695.3,160.1 696.2,159.0 697.1,158.0 697.9,157.2 698.8,156.5 699.6,155.9 700.4,155.5 701.2,155.2 702.1,155.0 702.8,154.9 703.6,154.8 704.3,154.8 705.0,155.0 705.6,155.2 706.1,155.6 706.6,156.0 707.1,156.5 707.5,157.1 707.8,157.8 708.1,158.5 708.2,159.1 708.3,159.7 708.3,160.3 708.2,161.0 708.0,161.8 707.9,162.4 707.7,163.1 707.5,163.7 707.4,164.4 707.2,165.2 706.9,166.3 706.6,167.4 706.2,168.6 705.7,169.8 705.2,170.9 704.7,172.0 704.1,173.1 703.5,174.2 702.8,175.2 702.1,176.3 701.3,177.3 700.5,178.2 699.6,179.2 698.6,180.0 697.6,180.7 696.5,181.4 695.5,182.0 694.3,182.5 693.1,183.0 691.9,183.5 690.6,183.9 689.4,184.3 688.2,184.6 686.9,184.9 685.5,185.2 684.3,185.4 683.2,185.6 682.5,185.7 681.7,186.2 681.3,186.9 681.5,187.8 682.1,188.4Z"/>
<path d="M726.3,165.3 727.0,164.7 728.0,163.7 729.2,162.6 730.4,161.6 731.5,160.7 732.6,159.9 733.6,159.1 734.7,158.4 735.7,157.7 736.7,157.2 737.6,156.8 738.5,156.5 739.4,156.3 740.2,156.1 740.8,156.0 741.5,155.5 741.8,154.7 741.6,153.9 741.0,153.3 740.1,153.3 739.5,153.4 738.7,153.6 737.7,153.9 736.6,154.2 735.4,154.7 734.3,155.3 733.2,156.0 732.0,156.8 730.9,157.6 729.8,158.5 728.6,159.4 727.3,160.6 726.1,161.7 725.1,162.6 724.4,163.3 724.0,164.0 724.1,164.9 724.7,165.5 725.5,165.7Z"/>
<path d="M738.1,154.5 737.8,155.8 737.4,157.5 736.9,159.4 736.3,161.6 735.5,164.2 734.6,167.4 733.5,171.2 732.2,175.4 730.8,179.7 729.5,183.8 728.1,187.8 726.5,191.9 725.0,196.0 723.4,200.1 722.0,203.8 720.6,207.5 719.2,211.1 717.9,214.5 716.8,217.3 716.2,219.1 729.2,219.1 729.4,218.7 730.6,215.4 731.9,211.7 733.2,208.0 734.6,204.3 736.1,200.3 737.7,196.0 739.2,191.7 740.6,187.4 741.9,183.1 743.2,178.6 744.3,174.2 745.3,170.1 746.0,166.5 746.4,163.2 746.4,160.4 746.2,158.1 746.0,156.3 745.9,155.1Z"/>
<path d="M743.6,174.3 744.2,173.4 745.0,172.3 746.0,170.9 747.1,169.5 748.2,168.2 749.3,166.9 750.4,165.8 751.5,164.7 752.7,163.6 754.0,162.6 755.2,161.6 756.5,160.7 757.8,159.9 759.1,159.1 760.4,158.3 761.7,157.7 763.0,157.2 764.1,156.9 765.2,156.7 766.3,156.6 767.3,156.7 768.2,156.8 769.1,157.1 769.9,157.4 770.7,157.9 771.5,158.6 772.2,159.4 772.8,160.2 773.4,161.1 773.8,162.0 774.1,162.8 774.4,163.8 774.6,164.8 774.7,165.8 774.7,166.9 774.6,167.9 774.4,168.9 774.2,170.0 773.9,171.0 773.5,172.0 773.0,173.0 772.5,173.7 771.8,174.3 771.0,174.8 770.1,175.3 769.2,175.7 768.3,176.2 767.7,176.5 766.6,178.6 766.9,180.8 768.5,182.5 770.8,182.9 772.8,181.9 773.1,181.3 773.6,180.5 774.2,179.5 774.9,178.4 775.6,177.1 776.2,175.9 776.6,174.6 777.0,173.4 777.4,172.1 777.7,170.8 777.9,169.5 778.1,168.2 778.1,166.9 778.1,165.6 777.9,164.3 777.7,163.0 777.3,161.7 776.8,160.5 776.1,159.4 775.3,158.3 774.4,157.3 773.4,156.4 772.3,155.6 771.2,154.9 770.1,154.4 768.8,154.1 767.6,153.9 766.2,153.8 764.9,153.9 763.5,154.1 762.1,154.5 760.6,155.1 759.1,155.8 757.7,156.6 756.3,157.5 754.9,158.4 753.5,159.4 752.2,160.4 750.9,161.5 749.6,162.7 748.4,163.8 747.2,165.0 746.0,166.4 744.9,167.8 743.8,169.3 742.8,170.6 742.0,171.8 741.4,172.6 741.1,173.4 741.3,174.3 742.0,174.8 742.9,174.8Z"/>
<path d="M771.1,176.3 770.7,178.3 769.8,180.2 768.3,181.6 766.5,182.6 764.5,182.9 762.5,182.6 760.6,181.6 759.2,180.2 758.2,178.3 757.9,176.3 758.2,174.2 759.2,172.4 760.6,170.9 762.5,170.0 764.5,169.6 766.5,170.0 768.3,170.9 769.8,172.4 770.7,174.2Z"/>
<path d="M819.6,158.7 819.1,158.1 818.5,157.3 817.8,156.4 816.9,155.4 815.9,154.4 814.8,153.6 813.7,153.1 812.6,152.7 811.4,152.4 810.3,152.2 809.1,152.1 808.0,152.1 806.9,152.2 805.8,152.3 804.6,152.5 803.5,152.7 802.3,153.1 801.1,153.5 799.9,154.1 798.6,154.7 797.3,155.4 795.9,156.2 794.5,157.2 793.1,158.3 791.7,159.5 790.3,160.9 788.8,162.3 787.4,163.9 786.0,165.5 784.7,167.1 783.5,168.8 782.2,170.6 781.0,172.5 779.9,174.4 778.9,176.4 777.9,178.4 777.1,180.5 776.4,182.6 775.9,184.6 775.4,186.6 775.0,188.5 774.7,190.3 774.5,192.0 774.4,193.7 774.3,195.3 774.4,196.8 774.4,198.1 774.6,199.5 774.7,200.8 774.9,202.1 775.2,203.4 775.5,204.6 775.9,205.9 776.4,207.1 776.9,208.3 777.4,209.5 778.0,210.6 778.7,211.7 779.4,212.8 780.1,213.8 780.9,214.7 781.7,215.6 782.6,216.4 783.5,217.2 784.4,217.9 785.3,218.5 786.2,219.0 787.0,219.4 788.0,219.7 789.0,219.9 790.0,220.0 791.0,220.0 792.0,219.8 793.0,219.5 794.0,219.1 795.0,218.6 796.0,218.0 797.0,217.3 798.0,216.5 799.1,215.5 800.1,214.4 801.1,213.3 802.1,212.1 803.0,210.8 804.0,209.6 805.0,208.2 805.9,206.8 806.8,205.3 807.7,203.9 808.5,202.6 809.4,201.3 810.2,199.9 811.1,198.5 811.8,197.3 812.5,196.3 812.9,195.5 813.1,194.7 812.8,193.9 812.1,193.4 811.2,193.5 810.5,194.0 810.1,194.8 809.4,195.8 808.7,197.1 807.9,198.4 807.0,199.8 806.2,201.1 805.3,202.4 804.4,203.8 803.5,205.2 802.6,206.6 801.7,207.9 800.8,209.1 799.9,210.3 798.9,211.5 798.0,212.5 797.1,213.5 796.2,214.4 795.3,215.1 794.5,215.7 793.7,216.2 792.9,216.5 792.2,216.8 791.5,216.8 790.9,216.8 790.4,216.7 790.0,216.5 789.6,216.2 789.3,215.8 788.9,215.3 788.5,214.8 788.2,214.2 787.9,213.5 787.6,212.8 787.3,212.0 787.1,211.1 786.9,210.3 786.7,209.4 786.6,208.5 786.4,207.6 786.3,206.6 786.3,205.7 786.2,204.7 786.2,203.8 786.2,202.9 786.2,202.0 786.2,201.0 786.2,200.0 786.2,198.9 786.2,197.7 786.2,196.5 786.3,195.4 786.3,194.3 786.3,193.1 786.5,191.8 786.6,190.3 786.8,188.6 787.1,186.9 787.3,185.2 787.6,183.6 788.0,182.0 788.5,180.4 789.1,178.7 789.8,176.9 790.5,175.1 791.3,173.3 792.0,171.6 792.8,169.9 793.7,168.2 794.5,166.5 795.4,164.9 796.3,163.5 797.2,162.2 798.1,161.0 799.0,160.0 799.9,159.0 800.9,158.2 801.8,157.4 802.8,156.8 803.7,156.2 804.5,155.8 805.4,155.4 806.3,155.2 807.1,155.0 808.1,154.9 809.0,154.9 810.0,155.0 810.9,155.2 811.8,155.4 812.7,155.7 813.4,156.0 814.1,156.5 814.8,157.3 815.6,158.2 816.3,159.1 817.0,159.9 817.4,160.4 818.2,160.9 819.0,160.9 819.7,160.3 819.9,159.5Z"/>
<path d="M822.3,155.0 821.8,156.0 820.9,158.0 820.1,160.0 819.3,162.0 818.5,164.2 817.7,166.5 816.9,168.9 816.1,171.3 815.3,173.6 814.6,175.9 813.8,178.3 813.1,180.6 812.4,182.9 811.7,185.1 811.1,187.3 810.4,189.3 809.8,191.4 809.2,193.4 808.6,195.3 808.1,197.2 807.6,199.0 807.2,200.6 806.9,202.1 806.5,203.6 806.3,205.1 806.1,206.6 806.1,208.2 806.2,209.6 806.4,211.0 806.7,212.4 807.2,213.7 807.8,214.9 808.6,216.1 809.4,217.2 810.4,218.0 811.5,218.8 812.6,219.4 813.8,219.9 815.0,220.1 816.1,220.2 817.2,220.1 818.3,219.9 819.4,219.6 820.5,219.2 821.6,218.6 822.7,217.9 823.8,217.0 824.9,216.0 826.0,214.9 827.0,213.7 828.0,212.6 829.1,211.4 830.2,210.0 831.3,208.5 832.2,207.2 833.1,206.1 833.7,205.3 833.9,204.5 833.7,203.6 833.0,203.1 832.1,203.1 831.4,203.6 830.8,204.4 830.0,205.6 829.0,206.9 828.0,208.3 826.9,209.6 825.9,210.8 825.0,211.8 823.9,212.9 822.9,214.0 822.0,214.9 821.0,215.7 820.2,216.2 819.3,216.7 818.5,217.0 817.8,217.2 817.1,217.2 816.5,217.1 816.0,216.8 815.5,216.4 815.1,215.9 814.8,215.3 814.5,214.6 814.3,213.9 814.2,213.4 814.3,212.8 814.4,212.2 814.6,211.6 814.8,210.8 815.1,210.0 815.4,209.1 815.7,208.3 816.0,207.3 816.4,206.2 816.8,205.0 817.4,203.6 817.9,202.1 818.5,200.4 819.1,198.7 819.8,196.8 820.4,194.9 821.2,192.8 821.9,190.8 822.6,188.6 823.4,186.4 824.1,184.1 824.9,181.9 825.7,179.6 826.4,177.3 827.2,175.1 828.0,172.8 828.9,170.4 829.7,168.2 830.4,166.0 831.1,163.9 831.7,161.9 832.3,159.8 832.9,157.9 833.4,156.1 833.7,155.0Z"/>
<path d="M871.2,116.0 870.3,118.5 869.0,122.2 867.5,126.0 866.2,129.7 864.8,133.4 863.4,137.2 861.9,141.1 860.4,145.1 858.8,149.1 857.4,153.1 855.9,157.0 854.4,161.1 852.9,165.2 851.4,169.1 850.0,172.9 848.7,176.5 847.5,179.8 846.3,182.9 845.2,185.8 844.2,188.7 843.3,191.3 842.5,193.8 841.8,196.0 841.1,198.1 840.6,200.1 840.1,202.0 839.8,204.0 839.6,206.0 839.8,208.0 840.1,209.9 840.6,211.6 841.3,213.2 842.1,214.6 843.1,215.9 844.2,217.1 845.4,218.1 846.7,219.0 848.1,219.6 849.6,220.0 851.0,220.2 852.5,220.2 853.9,219.8 855.3,219.4 856.6,218.8 857.9,218.1 859.2,217.4 860.4,216.4 861.5,215.3 862.6,214.1 863.7,212.9 864.7,211.7 865.7,210.4 866.8,209.1 867.8,207.7 868.9,206.3 869.8,204.9 870.6,203.8 871.2,203.0 871.5,202.1 871.2,201.3 870.5,200.8 869.7,200.8 869.0,201.3 868.4,202.1 867.6,203.3 866.6,204.6 865.6,206.0 864.5,207.4 863.5,208.7 862.6,209.9 861.6,211.1 860.5,212.3 859.5,213.4 858.6,214.3 857.6,215.0 856.6,215.7 855.5,216.2 854.4,216.5 853.3,216.6 852.4,216.6 851.6,216.4 851.0,216.0 850.4,215.5 849.8,214.8 849.3,214.1 848.9,213.3 848.7,212.6 848.6,211.8 848.5,210.9 848.5,209.9 848.6,209.0 848.8,207.9 849.0,206.8 849.3,205.7 849.7,204.5 850.2,203.1 850.8,201.4 851.6,199.4 852.4,197.2 853.3,194.8 854.2,192.3 855.2,189.5 856.3,186.6 857.5,183.5 858.7,180.1 860.0,176.6 861.4,172.8 862.8,168.8 864.3,164.7 865.8,160.7 867.2,156.7 868.6,152.7 870.1,148.7 871.5,144.7 872.9,140.7 874.3,136.8 875.6,133.1 876.9,129.4 878.2,125.6 879.5,121.9 880.7,118.5 881.6,116.0Z"/>
<path d="M845.9,151.4 864.0,151.4 882.2,151.4 882.2,148.2 864.0,148.2 845.9,148.2Z"/>
<path d="M885.5,164.9 886.3,164.0 887.5,162.9 888.8,161.6 890.2,160.3 891.5,159.3 892.7,158.4 893.9,157.7 895.2,157.0 896.4,156.4 897.4,155.9 898.3,155.6 899.1,155.4 899.8,155.3 900.5,155.2 901.0,155.1 901.8,154.7 902.2,153.9 902.0,153.0 901.4,152.4 900.5,152.3 900.1,152.4 899.4,152.5 898.5,152.7 897.4,152.9 896.3,153.3 895.2,153.9 893.9,154.5 892.5,155.3 891.1,156.1 889.8,157.0 888.4,158.2 886.9,159.5 885.5,160.9 884.4,162.1 883.6,162.9 883.2,163.6 883.3,164.5 883.9,165.1 884.7,165.2Z"/>
<path d="M899.4,153.3 899.0,153.7 898.6,153.9 898.2,154.2 897.6,154.7 897.0,155.7 896.2,157.3 895.2,159.6 894.1,162.5 892.9,165.9 891.6,169.6 890.3,173.2 889.2,176.6 888.0,180.0 886.8,183.4 885.6,187.0 884.5,190.4 883.5,193.6 882.7,196.4 882.1,198.7 881.6,200.7 881.2,202.5 880.9,204.3 880.7,206.1 880.8,208.0 881.1,209.9 881.7,211.7 882.4,213.3 883.3,214.7 884.2,216.0 885.2,217.1 886.3,218.1 887.5,218.8 888.7,219.4 890.0,219.8 891.2,220.0 892.5,220.0 893.7,219.9 894.8,219.5 896.0,219.1 897.1,218.6 898.2,218.0 899.3,217.3 900.3,216.5 901.3,215.5 902.3,214.4 903.3,213.3 904.1,212.2 905.0,211.3 905.8,210.3 906.7,209.3 907.5,208.3 908.2,207.4 908.8,206.7 909.3,206.2 907.1,204.4 906.7,204.9 906.1,205.7 905.3,206.5 904.5,207.5 903.7,208.5 902.8,209.4 902.0,210.4 901.1,211.5 900.2,212.5 899.3,213.5 898.4,214.4 897.6,215.1 896.8,215.6 895.9,216.1 895.0,216.5 894.1,216.7 893.4,216.7 892.7,216.6 892.1,216.3 891.5,216.0 890.9,215.5 890.4,215.0 890.0,214.4 889.8,213.7 889.6,213.0 889.4,212.0 889.3,211.0 889.3,210.0 889.4,209.0 889.5,208.0 889.7,207.0 890.0,206.0 890.4,204.8 890.9,203.4 891.5,201.5 892.3,199.3 893.2,196.7 894.3,193.7 895.5,190.4 896.7,186.9 898.0,183.4 899.1,180.0 900.3,176.6 901.5,172.9 902.7,169.3 903.8,165.8 904.7,162.8 905.4,160.3 905.7,158.5 905.8,157.2 905.6,156.2 905.4,155.6 905.1,155.2 905.0,154.9Z"/>
<path d="M909.0,138.7 907.7,141.2 905.9,143.2 903.9,144.5 901.8,145.1 899.8,144.8 898.2,143.6 897.1,141.8 896.5,139.4 896.6,136.7 897.4,134.0 898.7,131.5 900.5,129.5 902.5,128.2 904.6,127.6 906.6,128.0 908.2,129.1 909.4,130.9 909.9,133.3 909.8,136.0Z"/>
<path d="M947.9,152.1 947.0,152.4 945.7,152.7 944.1,153.0 942.3,153.4 940.4,154.0 938.6,154.7 937.0,155.6 935.3,156.6 933.7,157.8 932.0,159.1 930.4,160.5 928.8,162.1 927.2,163.9 925.6,165.9 924.1,168.0 922.6,170.2 921.2,172.5 920.0,174.7 918.9,177.0 917.8,179.3 916.9,181.8 916.0,184.2 915.3,186.6 914.8,189.1 914.4,191.4 914.2,193.8 914.1,196.1 914.2,198.4 914.4,200.6 914.8,202.8 915.4,204.9 916.1,207.0 917.1,209.0 918.1,211.0 919.3,212.8 920.7,214.4 922.2,215.9 923.8,217.1 925.5,218.3 927.3,219.2 929.2,219.9 931.1,220.2 932.9,220.1 934.6,219.7 936.2,219.1 937.7,218.3 939.2,217.4 940.7,216.3 942.1,215.0 943.5,213.5 944.9,211.9 946.2,210.2 947.6,208.4 948.8,206.5 950.0,204.5 951.2,202.5 952.3,200.4 953.3,198.2 954.3,196.0 955.3,193.8 956.3,191.7 957.3,189.4 958.2,187.2 959.1,184.9 960.0,182.7 960.7,180.5 961.4,178.3 962.1,176.1 962.7,173.8 963.2,171.6 963.6,169.5 963.8,167.5 963.8,165.6 963.6,163.8 963.3,162.2 962.8,160.7 962.2,159.2 961.5,157.9 960.6,156.7 959.6,155.7 958.5,154.8 957.4,154.0 956.2,153.4 955.1,152.8 953.8,152.4 952.4,152.2 951.1,152.1 949.9,152.1 949.0,152.1 948.3,152.1 948.2,154.9 949.0,154.9 949.9,154.9 951.0,154.9 952.1,155.0 953.1,155.1 954.0,155.4 954.9,155.8 955.7,156.4 956.6,157.1 957.4,157.9 958.0,158.7 958.5,159.6 958.9,160.6 959.2,161.8 959.5,163.0 959.6,164.3 959.7,165.7 959.7,167.3 959.5,168.9 959.1,170.8 958.7,172.8 958.2,175.0 957.6,177.1 956.9,179.3 956.3,181.4 955.5,183.6 954.8,185.8 953.9,188.1 953.1,190.3 952.2,192.5 951.2,194.6 950.3,196.8 949.3,198.9 948.3,201.0 947.3,203.0 946.2,204.8 945.0,206.6 943.8,208.3 942.5,210.0 941.3,211.5 940.0,212.8 938.7,213.8 937.4,214.7 936.2,215.4 934.9,215.9 933.8,216.1 932.8,216.1 932.0,215.8 931.4,215.2 930.8,214.4 930.2,213.3 929.6,212.0 929.1,210.7 928.7,209.4 928.4,208.2 928.1,206.8 927.9,205.3 927.8,203.8 927.6,202.3 927.5,200.7 927.4,199.2 927.4,197.7 927.3,196.1 927.3,194.4 927.4,192.8 927.5,191.0 927.8,189.2 928.1,187.2 928.5,185.1 928.9,183.0 929.4,180.9 930.0,178.8 930.6,176.7 931.3,174.5 932.1,172.3 932.9,170.2 933.8,168.2 934.7,166.4 935.5,164.7 936.5,163.2 937.5,161.7 938.5,160.4 939.6,159.2 940.7,158.1 941.9,157.3 943.4,156.5 944.9,155.9 946.4,155.4 947.7,155.1 948.7,154.8Z"/>
<path d="M962.5,176.0 961.7,178.4 960.4,180.5 959.0,182.0 957.4,182.8 955.8,182.8 954.5,182.1 953.4,180.6 952.8,178.6 952.7,176.2 953.1,173.6 954.0,171.2 955.2,169.1 956.7,167.6 958.3,166.8 959.8,166.8 961.2,167.5 962.2,169.0 962.8,171.0 962.9,173.4Z"/>
<path d="M958.8,183.6 959.5,183.8 960.6,184.2 961.9,184.6 963.4,184.9 965.0,184.8 966.4,184.2 967.6,183.5 968.8,182.5 969.9,181.5 970.9,180.3 971.8,179.0 972.6,177.5 973.3,175.9 973.9,174.5 974.3,173.2 974.4,172.0 974.3,170.9 974.0,170.1 973.8,169.6 973.7,169.2 973.1,168.6 972.3,168.3 971.5,168.6 971.0,169.3 971.0,170.2 971.2,170.6 971.4,171.1 971.5,171.5 971.6,171.9 971.5,172.5 971.2,173.5 970.7,174.8 970.1,176.2 969.4,177.6 968.6,178.6 967.9,179.6 967.0,180.4 966.0,181.2 965.1,181.7 964.4,182.0 963.6,182.1 962.6,181.9 961.5,181.5 960.4,181.1 959.6,180.9 958.8,180.9 958.1,181.4 957.8,182.2 958.1,183.0Z"/>
<path d="M982.0,164.5 982.7,163.9 983.6,163.2 984.6,162.3 985.7,161.5 986.7,160.7 987.7,160.0 988.8,159.3 989.9,158.7 990.9,158.1 991.9,157.7 993.0,157.3 994.1,157.1 995.2,156.8 996.2,156.7 996.9,156.5 997.7,156.1 998.0,155.3 997.9,154.5 997.2,153.9 996.4,153.8 995.7,153.9 994.7,154.1 993.5,154.3 992.2,154.6 990.9,155.1 989.7,155.6 988.5,156.3 987.3,156.9 986.2,157.7 985.1,158.4 983.9,159.2 982.8,160.2 981.7,161.1 980.9,161.8 980.2,162.3 979.8,163.1 979.8,163.9 980.4,164.6 981.2,164.8Z"/>
<path d="M994.1,154.2 993.6,155.4 993.0,157.0 992.2,158.9 991.3,161.3 990.5,164.1 989.5,167.6 988.6,171.5 987.6,175.8 986.5,180.0 985.4,184.0 984.1,188.0 982.6,192.0 981.1,196.1 979.6,200.1 978.2,203.9 976.9,207.6 975.5,211.2 974.2,214.5 973.1,217.3 972.3,219.3 985.3,219.3 985.5,218.7 986.7,215.3 988.0,211.6 989.3,208.0 990.7,204.2 992.1,200.2 993.7,195.9 995.1,191.6 996.4,187.2 997.5,182.8 998.6,178.3 999.4,173.9 1000.2,169.9 1000.8,166.5 1001.2,163.6 1001.5,161.1 1001.7,159.0 1001.8,157.3 1001.9,156.1Z"/>
<path d="M994.1,181.1 994.8,180.2 995.7,179.0 996.8,177.5 998.0,176.0 999.3,174.4 1000.5,173.0 1001.7,171.6 1002.9,170.3 1004.3,168.9 1005.6,167.5 1006.9,166.2 1008.2,165.0 1009.4,163.8 1010.7,162.7 1011.9,161.7 1013.1,160.7 1014.3,159.8 1015.4,159.0 1016.5,158.3 1017.6,157.7 1018.7,157.2 1019.7,156.8 1020.5,156.7 1021.3,156.8 1022.0,157.0 1022.7,157.4 1023.2,157.8 1023.5,158.3 1023.5,158.7 1023.4,159.0 1023.4,159.4 1023.4,160.1 1023.4,160.9 1023.4,161.8 1023.3,162.8 1023.1,163.6 1022.9,164.5 1022.6,165.5 1022.2,166.8 1021.6,168.3 1021.0,170.0 1020.4,171.8 1019.7,173.7 1019.1,175.6 1018.4,177.6 1017.7,179.7 1017.0,181.8 1016.3,183.8 1015.6,185.8 1014.8,187.8 1014.0,189.9 1013.2,192.0 1012.4,194.0 1011.7,195.9 1011.1,197.7 1010.5,199.4 1009.9,201.1 1009.4,202.7 1008.9,204.4 1008.5,205.9 1008.3,207.4 1008.2,208.7 1008.1,210.0 1008.2,211.4 1008.4,212.8 1008.8,214.1 1009.4,215.3 1010.2,216.4 1011.1,217.4 1012.1,218.2 1013.2,218.8 1014.4,219.3 1015.6,219.4 1016.8,219.5 1017.9,219.4 1019.2,219.1 1020.4,218.8 1021.7,218.3 1022.9,217.7 1024.2,216.8 1025.4,215.9 1026.7,214.8 1028.0,213.7 1029.3,212.5 1030.8,211.1 1032.4,209.4 1034.1,207.6 1035.7,205.9 1037.1,204.5 1038.0,203.5 1038.4,202.7 1038.2,201.9 1037.6,201.3 1036.7,201.2 1036.0,201.6 1035.0,202.6 1033.7,204.0 1032.1,205.7 1030.4,207.5 1028.8,209.1 1027.4,210.5 1026.1,211.6 1024.8,212.7 1023.7,213.7 1022.5,214.6 1021.5,215.2 1020.5,215.8 1019.6,216.1 1018.7,216.3 1017.8,216.3 1017.0,216.2 1016.4,215.9 1016.0,215.6 1015.8,215.3 1015.6,214.8 1015.6,214.3 1015.5,213.7 1015.6,213.1 1015.7,212.7 1015.9,212.3 1016.1,211.9 1016.4,211.3 1016.8,210.6 1017.2,209.7 1017.6,208.6 1018.1,207.5 1018.7,206.2 1019.4,204.8 1020.1,203.2 1020.8,201.5 1021.6,199.7 1022.4,197.9 1023.2,195.9 1024.1,193.9 1024.9,191.8 1025.7,189.6 1026.5,187.5 1027.3,185.4 1028.0,183.2 1028.7,181.1 1029.4,179.0 1030.0,176.9 1030.6,175.1 1031.1,173.4 1031.7,171.7 1032.2,170.0 1032.7,168.2 1033.1,166.3 1033.2,164.3 1033.1,162.3 1032.8,160.5 1032.2,158.8 1031.5,157.1 1030.6,155.6 1029.4,154.3 1028.0,153.2 1026.4,152.6 1024.9,152.4 1023.5,152.4 1022.1,152.6 1020.9,152.9 1019.6,153.3 1018.5,153.9 1017.3,154.5 1016.2,155.2 1015.0,155.9 1013.9,156.7 1012.7,157.5 1011.4,158.5 1010.1,159.5 1008.8,160.6 1007.5,161.7 1006.2,162.9 1004.9,164.2 1003.6,165.5 1002.2,166.9 1000.9,168.3 999.6,169.8 998.4,171.2 997.1,172.6 995.8,174.2 994.6,175.8 993.5,177.2 992.6,178.5 991.9,179.3 991.6,180.2 991.8,181.0 992.5,181.5 993.4,181.6Z"/>
<path d="M1247.7,158.7 1247.3,158.1 1246.7,157.3 1245.9,156.4 1245.0,155.4 1244.1,154.4 1243.0,153.6 1241.9,153.1 1240.7,152.7 1239.6,152.4 1238.4,152.2 1237.3,152.1 1236.1,152.1 1235.0,152.2 1233.9,152.3 1232.8,152.5 1231.6,152.7 1230.5,153.1 1229.2,153.5 1228.0,154.1 1226.7,154.7 1225.4,155.4 1224.0,156.2 1222.7,157.2 1221.3,158.3 1219.9,159.5 1218.4,160.9 1217.0,162.3 1215.6,163.9 1214.2,165.5 1212.9,167.1 1211.6,168.8 1210.4,170.6 1209.2,172.5 1208.1,174.4 1207.0,176.4 1206.1,178.4 1205.2,180.5 1204.6,182.6 1204.0,184.6 1203.5,186.6 1203.2,188.5 1202.9,190.3 1202.7,192.0 1202.5,193.7 1202.5,195.3 1202.5,196.8 1202.6,198.1 1202.7,199.5 1202.9,200.8 1203.1,202.1 1203.4,203.4 1203.7,204.6 1204.1,205.9 1204.5,207.1 1205.0,208.3 1205.6,209.5 1206.2,210.6 1206.9,211.7 1207.6,212.8 1208.3,213.8 1209.1,214.7 1209.9,215.6 1210.7,216.4 1211.6,217.2 1212.5,217.9 1213.4,218.5 1214.3,219.0 1215.2,219.4 1216.1,219.7 1217.1,219.9 1218.1,220.0 1219.2,220.0 1220.2,219.8 1221.1,219.5 1222.1,219.1 1223.1,218.6 1224.2,218.0 1225.2,217.3 1226.2,216.5 1227.2,215.5 1228.2,214.4 1229.2,213.3 1230.2,212.1 1231.2,210.8 1232.1,209.6 1233.1,208.2 1234.0,206.8 1235.0,205.3 1235.8,203.9 1236.7,202.6 1237.5,201.3 1238.4,199.9 1239.2,198.5 1240.0,197.3 1240.6,196.3 1241.1,195.5 1241.3,194.7 1241.0,193.9 1240.2,193.4 1239.4,193.5 1238.7,194.0 1238.2,194.8 1237.6,195.8 1236.8,197.1 1236.0,198.4 1235.1,199.8 1234.3,201.1 1233.5,202.4 1232.6,203.8 1231.7,205.2 1230.8,206.6 1229.9,207.9 1229.0,209.1 1228.0,210.3 1227.1,211.5 1226.1,212.5 1225.2,213.5 1224.3,214.4 1223.5,215.1 1222.6,215.7 1221.9,216.2 1221.1,216.5 1220.3,216.8 1219.7,216.8 1219.1,216.8 1218.6,216.7 1218.2,216.5 1217.8,216.2 1217.4,215.8 1217.0,215.3 1216.7,214.8 1216.3,214.2 1216.0,213.5 1215.8,212.8 1215.5,212.0 1215.2,211.1 1215.0,210.3 1214.8,209.4 1214.7,208.5 1214.6,207.6 1214.5,206.6 1214.4,205.7 1214.3,204.7 1214.3,203.8 1214.3,202.9 1214.3,202.0 1214.3,201.0 1214.4,200.0 1214.4,198.9 1214.4,197.7 1214.4,196.5 1214.4,195.4 1214.4,194.3 1214.5,193.1 1214.6,191.8 1214.8,190.3 1215.0,188.6 1215.2,186.9 1215.5,185.2 1215.8,183.6 1216.2,182.0 1216.7,180.4 1217.2,178.7 1217.9,176.9 1218.6,175.1 1219.4,173.3 1220.2,171.6 1221.0,169.9 1221.8,168.2 1222.7,166.5 1223.6,164.9 1224.5,163.5 1225.3,162.2 1226.2,161.0 1227.1,160.0 1228.1,159.0 1229.0,158.2 1230.0,157.4 1230.9,156.8 1231.8,156.2 1232.7,155.8 1233.5,155.4 1234.4,155.2 1235.3,155.0 1236.2,154.9 1237.1,154.9 1238.1,155.0 1239.1,155.2 1240.0,155.4 1240.8,155.7 1241.5,156.0 1242.2,156.5 1243.0,157.3 1243.8,158.2 1244.5,159.1 1245.1,159.9 1245.6,160.4 1246.3,160.9 1247.2,160.9 1247.8,160.3 1248.1,159.5Z"/>
<path d="M1250.4,155.0 1250.0,156.0 1249.1,158.0 1248.3,160.0 1247.5,162.0 1246.7,164.2 1245.9,166.5 1245.1,168.9 1244.3,171.3 1243.5,173.6 1242.7,175.9 1242.0,178.3 1241.3,180.6 1240.6,182.9 1239.9,185.1 1239.2,187.3 1238.6,189.3 1238.0,191.4 1237.3,193.4 1236.8,195.3 1236.2,197.2 1235.8,199.0 1235.4,200.6 1235.0,202.1 1234.7,203.6 1234.4,205.1 1234.3,206.6 1234.2,208.2 1234.3,209.6 1234.6,211.0 1234.9,212.4 1235.4,213.7 1236.0,214.9 1236.7,216.1 1237.6,217.2 1238.6,218.0 1239.7,218.8 1240.8,219.4 1241.9,219.9 1243.1,220.1 1244.3,220.2 1245.4,220.1 1246.5,219.9 1247.6,219.6 1248.7,219.2 1249.8,218.6 1250.9,217.9 1252.0,217.0 1253.1,216.0 1254.1,214.9 1255.2,213.7 1256.2,212.6 1257.2,211.4 1258.3,210.0 1259.4,208.5 1260.4,207.2 1261.2,206.1 1261.8,205.3 1262.1,204.5 1261.8,203.6 1261.1,203.1 1260.3,203.1 1259.6,203.6 1259.0,204.4 1258.1,205.6 1257.2,206.9 1256.1,208.3 1255.1,209.6 1254.1,210.8 1253.1,211.8 1252.1,212.9 1251.1,214.0 1250.1,214.9 1249.2,215.7 1248.3,216.2 1247.5,216.7 1246.7,217.0 1245.9,217.2 1245.2,217.2 1244.6,217.1 1244.1,216.8 1243.7,216.4 1243.3,215.9 1242.9,215.3 1242.6,214.6 1242.4,213.9 1242.4,213.4 1242.5,212.8 1242.6,212.2 1242.8,211.6 1243.0,210.8 1243.3,210.0 1243.5,209.1 1243.8,208.3 1244.1,207.3 1244.5,206.2 1245.0,205.0 1245.5,203.6 1246.1,202.1 1246.6,200.4 1247.2,198.7 1247.9,196.8 1248.6,194.9 1249.3,192.8 1250.0,190.8 1250.8,188.6 1251.5,186.4 1252.3,184.1 1253.0,181.9 1253.8,179.6 1254.6,177.3 1255.4,175.1 1256.2,172.8 1257.0,170.4 1257.8,168.2 1258.6,166.0 1259.3,163.9 1259.9,161.9 1260.5,159.8 1261.0,157.9 1261.5,156.1 1261.8,155.0Z"/>
<path d="M1271.6,164.0 1272.4,163.3 1273.5,162.4 1274.7,161.3 1276.0,160.2 1277.2,159.3 1278.3,158.5 1279.4,157.7 1280.6,157.0 1281.6,156.4 1282.5,155.9 1283.3,155.6 1284.1,155.4 1284.9,155.2 1285.5,155.1 1286.0,155.0 1286.8,154.6 1287.2,153.9 1287.0,153.0 1286.4,152.4 1285.6,152.3 1285.1,152.4 1284.4,152.5 1283.5,152.6 1282.5,152.9 1281.4,153.3 1280.3,153.9 1279.1,154.6 1277.9,155.4 1276.7,156.2 1275.5,157.1 1274.2,158.1 1272.9,159.2 1271.6,160.3 1270.6,161.2 1269.8,161.9 1269.3,162.6 1269.4,163.5 1270.0,164.1 1270.8,164.3Z"/>
<path d="M1283.6,153.6 1283.2,155.0 1282.6,156.8 1281.9,158.9 1281.1,161.3 1280.2,163.9 1279.1,167.2 1277.8,171.1 1276.4,175.3 1275.0,179.6 1273.6,183.8 1272.2,187.9 1270.7,192.1 1269.3,196.2 1267.8,200.3 1266.5,204.1 1265.3,207.7 1264.0,211.4 1262.8,214.7 1261.9,217.6 1261.3,219.1 1273.9,219.1 1274.1,218.5 1275.2,215.1 1276.4,211.5 1277.6,207.8 1278.9,204.1 1280.2,200.1 1281.7,195.9 1283.1,191.6 1284.5,187.4 1285.9,183.2 1287.3,178.8 1288.7,174.5 1289.9,170.4 1290.8,166.7 1291.2,163.4 1291.4,160.4 1291.3,157.9 1291.2,156.0 1291.1,154.6Z"/>
<path d="M1291.6,175.0 1292.3,174.2 1293.2,173.1 1294.4,171.7 1295.6,170.3 1296.8,168.9 1298.0,167.6 1299.2,166.4 1300.4,165.2 1301.7,163.9 1302.9,162.7 1304.1,161.6 1305.3,160.6 1306.5,159.8 1307.6,158.9 1308.7,158.2 1309.8,157.5 1310.8,156.9 1311.8,156.4 1312.8,156.0 1313.7,155.6 1314.6,155.4 1315.3,155.4 1315.8,155.5 1316.2,155.7 1316.4,156.1 1316.7,156.6 1316.8,157.2 1316.7,157.7 1316.5,158.0 1316.3,158.3 1316.0,158.6 1315.8,159.0 1315.5,159.4 1315.1,160.3 1314.5,161.7 1313.7,163.6 1312.7,166.1 1311.5,169.1 1310.1,172.6 1308.6,176.3 1307.1,180.0 1305.7,183.6 1304.4,187.0 1303.1,190.5 1301.8,194.1 1300.6,197.5 1299.4,200.8 1298.2,204.0 1297.1,207.0 1296.0,210.1 1295.0,213.1 1294.0,215.7 1293.2,217.9 1292.8,219.1 1305.4,219.1 1306.2,216.9 1307.1,214.0 1308.2,210.9 1309.2,207.9 1310.4,204.8 1311.6,201.5 1312.8,198.1 1314.1,194.6 1315.4,191.1 1316.7,187.7 1318.0,184.2 1319.4,180.5 1320.8,176.8 1322.2,173.2 1323.4,169.9 1324.2,167.1 1324.8,164.8 1325.1,162.8 1325.3,161.1 1325.2,159.4 1324.9,157.9 1324.4,156.3 1323.5,154.8 1322.3,153.5 1321.0,152.6 1319.7,152.0 1318.3,151.7 1317.1,151.6 1315.8,151.7 1314.7,152.0 1313.6,152.4 1312.6,152.9 1311.6,153.4 1310.6,153.9 1309.5,154.5 1308.3,155.1 1307.2,155.8 1306.0,156.6 1304.8,157.5 1303.5,158.5 1302.3,159.5 1301.0,160.7 1299.7,161.9 1298.4,163.2 1297.2,164.5 1296.0,165.7 1294.7,167.0 1293.5,168.5 1292.2,169.9 1291.1,171.3 1290.2,172.4 1289.5,173.2Z"/>
<path d="M1321.7,174.4 1322.5,173.5 1323.4,172.4 1324.6,171.1 1325.9,169.6 1327.2,168.2 1328.4,167.0 1329.7,165.8 1330.9,164.6 1332.3,163.4 1333.6,162.3 1334.9,161.3 1336.1,160.3 1337.2,159.5 1338.4,158.7 1339.5,158.1 1340.6,157.4 1341.6,156.9 1342.6,156.4 1343.5,156.0 1344.4,155.6 1345.2,155.5 1345.9,155.5 1346.3,155.6 1346.5,155.8 1346.7,156.2 1346.9,156.7 1347.0,157.3 1346.8,157.8 1346.6,158.0 1346.4,158.3 1346.1,158.5 1345.9,158.7 1345.7,159.3 1345.3,160.3 1344.7,161.7 1343.9,163.8 1343.0,166.4 1341.8,169.6 1340.5,173.2 1339.2,176.9 1337.9,180.5 1336.7,183.8 1335.6,186.8 1334.5,189.8 1333.4,192.6 1332.4,195.3 1331.5,197.9 1330.7,200.1 1330.1,202.1 1329.7,203.7 1329.3,205.2 1329.0,206.6 1328.9,208.0 1328.8,209.5 1328.9,210.9 1329.2,212.3 1329.5,213.5 1330.0,214.7 1330.6,215.8 1331.3,216.7 1332.0,217.6 1332.9,218.3 1333.9,218.9 1334.9,219.4 1335.9,219.7 1337.0,219.8 1338.0,219.8 1338.9,219.6 1339.9,219.4 1341.0,219.1 1342.0,218.6 1343.1,217.9 1344.2,217.1 1345.4,216.1 1346.6,214.9 1347.7,213.7 1348.9,212.5 1350.1,211.3 1351.4,210.0 1352.8,208.5 1354.3,207.0 1355.6,205.6 1356.8,204.4 1357.6,203.5 1357.9,202.7 1357.8,201.9 1357.2,201.3 1356.3,201.2 1355.5,201.6 1354.7,202.5 1353.6,203.7 1352.2,205.1 1350.8,206.6 1349.4,208.0 1348.1,209.4 1346.9,210.6 1345.7,211.8 1344.6,213.0 1343.5,214.0 1342.5,214.9 1341.6,215.6 1340.7,216.1 1340.0,216.4 1339.3,216.7 1338.6,216.7 1338.0,216.6 1337.6,216.4 1337.2,216.2 1337.0,215.8 1336.7,215.4 1336.6,215.0 1336.5,214.5 1336.5,214.1 1336.5,213.6 1336.7,213.1 1336.8,212.6 1337.0,212.0 1337.3,211.3 1337.6,210.5 1337.9,209.8 1338.2,209.0 1338.6,208.0 1339.1,206.9 1339.7,205.4 1340.4,203.6 1341.3,201.5 1342.2,199.1 1343.3,196.4 1344.4,193.5 1345.5,190.5 1346.6,187.4 1347.8,184.1 1349.1,180.5 1350.5,176.7 1351.7,173.0 1352.8,169.7 1353.6,166.9 1354.2,164.7 1354.6,163.0 1354.9,161.5 1355.0,160.0 1354.9,158.4 1354.6,156.8 1353.8,155.2 1352.7,153.8 1351.4,152.9 1350.1,152.3 1348.9,151.9 1347.6,151.8 1346.4,151.8 1345.3,152.1 1344.3,152.5 1343.3,153.0 1342.4,153.4 1341.4,153.9 1340.4,154.4 1339.2,155.0 1338.1,155.6 1336.9,156.4 1335.6,157.2 1334.4,158.1 1333.1,159.1 1331.8,160.2 1330.4,161.3 1329.1,162.5 1327.7,163.8 1326.5,165.0 1325.2,166.3 1323.8,167.8 1322.5,169.2 1321.3,170.6 1320.3,171.7 1319.6,172.5 1319.3,173.3 1319.5,174.1 1320.1,174.7 1321.0,174.8Z"/>
<path d="M1370.3,164.9 1371.1,164.0 1372.3,162.9 1373.6,161.6 1375.0,160.3 1376.3,159.3 1377.5,158.4 1378.7,157.7 1380.0,157.0 1381.2,156.4 1382.2,155.9 1383.1,155.6 1383.9,155.4 1384.6,155.3 1385.3,155.2 1385.8,155.1 1386.6,154.7 1387.0,153.9 1386.8,153.0 1386.2,152.4 1385.3,152.3 1384.9,152.4 1384.2,152.5 1383.3,152.7 1382.2,152.9 1381.1,153.3 1380.0,153.9 1378.7,154.5 1377.3,155.3 1375.9,156.1 1374.6,157.0 1373.2,158.2 1371.7,159.5 1370.3,160.9 1369.2,162.1 1368.4,162.9 1368.0,163.6 1368.1,164.5 1368.7,165.1 1369.5,165.2Z"/>
<path d="M1384.2,153.3 1383.8,153.7 1383.4,153.9 1383.0,154.2 1382.4,154.7 1381.8,155.7 1381.0,157.3 1380.0,159.6 1378.9,162.5 1377.7,165.9 1376.4,169.6 1375.1,173.2 1374.0,176.6 1372.8,180.0 1371.6,183.4 1370.4,187.0 1369.3,190.4 1368.3,193.6 1367.5,196.4 1366.9,198.7 1366.4,200.7 1366.0,202.5 1365.7,204.3 1365.5,206.1 1365.6,208.0 1365.9,209.9 1366.5,211.7 1367.2,213.3 1368.1,214.7 1369.0,216.0 1370.0,217.1 1371.1,218.1 1372.3,218.8 1373.5,219.4 1374.8,219.8 1376.0,220.0 1377.3,220.0 1378.5,219.9 1379.6,219.5 1380.8,219.1 1381.9,218.6 1383.0,218.0 1384.1,217.3 1385.1,216.5 1386.1,215.5 1387.1,214.4 1388.1,213.3 1388.9,212.2 1389.8,211.3 1390.6,210.3 1391.5,209.3 1392.3,208.3 1393.0,207.4 1393.6,206.7 1394.1,206.2 1391.9,204.4 1391.5,204.9 1390.9,205.7 1390.1,206.5 1389.3,207.5 1388.5,208.5 1387.6,209.4 1386.8,210.4 1385.9,211.5 1385.0,212.5 1384.1,213.5 1383.2,214.4 1382.4,215.1 1381.6,215.6 1380.7,216.1 1379.8,216.5 1378.9,216.7 1378.2,216.7 1377.5,216.6 1376.9,216.3 1376.3,216.0 1375.7,215.5 1375.2,215.0 1374.8,214.4 1374.6,213.7 1374.4,213.0 1374.2,212.0 1374.1,211.0 1374.1,210.0 1374.2,209.0 1374.3,208.0 1374.5,207.0 1374.8,206.0 1375.2,204.8 1375.7,203.4 1376.3,201.5 1377.1,199.3 1378.0,196.7 1379.1,193.7 1380.3,190.4 1381.5,186.9 1382.8,183.4 1383.9,180.0 1385.1,176.6 1386.3,172.9 1387.5,169.3 1388.6,165.8 1389.5,162.8 1390.2,160.3 1390.5,158.5 1390.6,157.2 1390.4,156.2 1390.2,155.6 1389.9,155.2 1389.8,154.9Z"/>
<path d="M1393.8,138.7 1392.5,141.2 1390.7,143.2 1388.7,144.5 1386.6,145.1 1384.6,144.8 1383.0,143.6 1381.9,141.8 1381.3,139.4 1381.4,136.7 1382.2,134.0 1383.5,131.5 1385.3,129.5 1387.3,128.2 1389.4,127.6 1391.4,128.0 1393.0,129.1 1394.2,130.9 1394.7,133.3 1394.6,136.0Z"/>
<path d="M1669.7,165.3 1670.4,164.7 1671.4,163.7 1672.6,162.6 1673.8,161.6 1674.9,160.7 1676.0,159.9 1677.0,159.1 1678.1,158.4 1679.1,157.7 1680.1,157.2 1681.0,156.8 1681.9,156.5 1682.8,156.3 1683.6,156.1 1684.2,156.0 1684.9,155.5 1685.2,154.7 1685.0,153.9 1684.4,153.3 1683.5,153.3 1682.9,153.4 1682.1,153.6 1681.1,153.9 1680.0,154.2 1678.8,154.7 1677.7,155.3 1676.6,156.0 1675.4,156.8 1674.3,157.6 1673.2,158.5 1672.0,159.4 1670.7,160.6 1669.5,161.7 1668.5,162.6 1667.8,163.3 1667.4,164.0 1667.5,164.9 1668.1,165.5 1668.9,165.7Z"/>
<path d="M1681.5,154.5 1681.2,155.8 1680.8,157.5 1680.3,159.4 1679.7,161.6 1678.9,164.2 1678.0,167.4 1676.9,171.2 1675.6,175.4 1674.2,179.7 1672.9,183.8 1671.5,187.8 1669.9,191.9 1668.4,196.0 1666.8,200.1 1665.4,203.8 1664.0,207.5 1662.6,211.1 1661.3,214.5 1660.2,217.3 1659.6,219.1 1672.6,219.1 1672.8,218.7 1674.0,215.4 1675.3,211.7 1676.6,208.0 1678.0,204.3 1679.5,200.3 1681.1,196.0 1682.6,191.7 1684.0,187.4 1685.3,183.1 1686.6,178.6 1687.7,174.2 1688.7,170.1 1689.4,166.5 1689.8,163.2 1689.8,160.4 1689.6,158.1 1689.4,156.3 1689.3,155.1Z"/>
<path d="M1687.0,174.3 1687.6,173.4 1688.4,172.3 1689.4,170.9 1690.5,169.5 1691.6,168.2 1692.7,166.9 1693.8,165.8 1694.9,164.7 1696.1,163.6 1697.4,162.6 1698.6,161.6 1699.9,160.7 1701.2,159.9 1702.5,159.1 1703.8,158.3 1705.1,157.7 1706.4,157.2 1707.5,156.9 1708.6,156.7 1709.7,156.6 1710.7,156.7 1711.6,156.8 1712.5,157.1 1713.3,157.4 1714.1,157.9 1714.9,158.6 1715.6,159.4 1716.2,160.2 1716.8,161.1 1717.2,162.0 1717.5,162.8 1717.8,163.8 1718.0,164.8 1718.1,165.8 1718.1,166.9 1718.0,167.9 1717.8,168.9 1717.6,170.0 1717.3,171.0 1716.9,172.0 1716.4,173.0 1715.9,173.7 1715.2,174.3 1714.4,174.8 1713.5,175.3 1712.6,175.7 1711.7,176.2 1711.1,176.5 1710.0,178.6 1710.3,180.8 1711.9,182.5 1714.2,182.9 1716.2,181.9 1716.5,181.3 1717.0,180.5 1717.6,179.5 1718.3,178.4 1719.0,177.1 1719.6,175.9 1720.0,174.6 1720.4,173.4 1720.8,172.1 1721.1,170.8 1721.3,169.5 1721.5,168.2 1721.5,166.9 1721.5,165.6 1721.3,164.3 1721.1,163.0 1720.7,161.7 1720.2,160.5 1719.5,159.4 1718.7,158.3 1717.8,157.3 1716.8,156.4 1715.7,155.6 1714.6,154.9 1713.5,154.4 1712.2,154.1 1711.0,153.9 1709.6,153.8 1708.3,153.9 1706.9,154.1 1705.5,154.5 1704.0,155.1 1702.5,155.8 1701.1,156.6 1699.7,157.5 1698.3,158.4 1696.9,159.4 1695.6,160.4 1694.3,161.5 1693.0,162.7 1691.8,163.8 1690.6,165.0 1689.4,166.4 1688.3,167.8 1687.2,169.3 1686.2,170.6 1685.4,171.8 1684.8,172.6 1684.5,173.4 1684.7,174.3 1685.4,174.8 1686.3,174.8Z"/>
<path d="M1714.5,176.3 1714.1,178.3 1713.2,180.2 1711.7,181.6 1709.9,182.6 1707.9,182.9 1705.9,182.6 1704.0,181.6 1702.6,180.2 1701.6,178.3 1701.3,176.3 1701.6,174.2 1702.6,172.4 1704.0,170.9 1705.9,170.0 1707.9,169.6 1709.9,170.0 1711.7,170.9 1713.2,172.4 1714.1,174.2Z"/>
<path d="M1732.4,188.5 1733.2,188.3 1734.2,188.2 1735.5,187.9 1736.9,187.7 1738.3,187.3 1739.7,187.0 1740.9,186.6 1742.2,186.1 1743.6,185.6 1744.9,185.1 1746.2,184.5 1747.4,183.8 1748.6,183.0 1749.8,182.2 1750.8,181.3 1751.9,180.4 1753.0,179.6 1754.1,178.7 1755.1,177.9 1756.2,177.0 1757.3,176.0 1758.3,175.1 1759.3,174.1 1760.2,173.1 1761.1,172.0 1762.1,170.9 1763.0,169.8 1763.9,168.5 1764.6,167.1 1765.2,165.6 1765.4,164.0 1765.3,162.5 1765.1,161.1 1764.6,159.7 1764.1,158.5 1763.5,157.4 1762.7,156.3 1761.8,155.4 1760.9,154.6 1759.9,153.9 1758.9,153.4 1757.9,153.0 1757.0,152.6 1756.0,152.4 1755.0,152.2 1754.0,152.1 1753.0,152.0 1752.0,152.1 1751.0,152.2 1749.9,152.5 1748.9,152.8 1747.7,153.2 1746.6,153.6 1745.4,154.2 1744.1,155.0 1742.8,155.8 1741.5,156.7 1740.2,157.7 1738.9,158.8 1737.5,159.9 1736.2,161.1 1734.8,162.4 1733.4,163.8 1732.0,165.3 1730.6,166.8 1729.4,168.4 1728.2,170.0 1727.1,171.6 1726.2,173.2 1725.2,174.9 1724.4,176.5 1723.6,178.2 1722.8,179.8 1722.1,181.5 1721.4,183.2 1720.8,184.9 1720.2,186.6 1719.7,188.4 1719.3,190.1 1719.0,191.8 1718.7,193.5 1718.5,195.2 1718.3,196.8 1718.3,198.3 1718.3,199.8 1718.4,201.2 1718.6,202.5 1718.9,203.8 1719.3,205.0 1719.7,206.1 1720.1,207.3 1720.7,208.6 1721.3,209.9 1722.0,211.2 1722.7,212.5 1723.6,213.7 1724.5,214.8 1725.4,215.8 1726.4,216.7 1727.5,217.5 1728.5,218.2 1729.7,218.8 1730.8,219.3 1732.0,219.7 1733.2,219.9 1734.4,220.1 1735.5,220.1 1736.7,220.1 1737.8,219.9 1738.9,219.6 1739.9,219.2 1740.9,218.8 1741.9,218.3 1742.8,217.7 1743.8,217.2 1744.7,216.5 1745.7,215.9 1746.6,215.1 1747.5,214.4 1748.4,213.6 1749.3,212.7 1750.2,211.7 1751.0,210.7 1751.8,209.8 1752.5,208.8 1753.3,207.9 1754.0,207.0 1754.7,206.1 1755.4,205.3 1756.1,204.5 1756.7,203.8 1757.1,203.3 1757.4,202.5 1757.2,201.7 1756.5,201.1 1755.7,201.1 1754.9,201.5 1754.5,202.0 1754.0,202.7 1753.3,203.4 1752.6,204.3 1751.8,205.1 1751.0,206.0 1750.2,206.8 1749.4,207.7 1748.6,208.6 1747.7,209.5 1746.9,210.3 1746.1,211.0 1745.3,211.7 1744.4,212.4 1743.6,213.0 1742.8,213.6 1741.9,214.0 1741.1,214.4 1740.3,214.8 1739.5,215.1 1738.7,215.3 1737.9,215.4 1737.2,215.4 1736.6,215.4 1735.9,215.2 1735.2,215.0 1734.6,214.8 1734.0,214.5 1733.4,214.1 1732.9,213.7 1732.4,213.2 1732.0,212.6 1731.6,211.9 1731.2,211.2 1730.9,210.4 1730.6,209.7 1730.4,208.9 1730.2,208.0 1730.1,207.0 1730.0,205.9 1729.9,204.8 1729.8,203.7 1729.7,202.8 1729.6,201.9 1729.6,201.1 1729.6,200.4 1729.6,199.6 1729.7,198.7 1729.7,197.6 1729.8,196.3 1730.0,195.0 1730.2,193.7 1730.4,192.4 1730.6,191.0 1731.0,189.7 1731.3,188.2 1731.8,186.8 1732.2,185.3 1732.8,183.8 1733.3,182.2 1733.8,180.7 1734.4,179.1 1735.0,177.6 1735.6,176.1 1736.3,174.6 1737.0,173.1 1737.7,171.6 1738.5,170.0 1739.4,168.4 1740.3,166.8 1741.2,165.3 1742.1,163.9 1743.0,162.6 1743.9,161.3 1744.8,160.1 1745.7,159.0 1746.5,158.0 1747.4,157.2 1748.2,156.5 1749.0,155.9 1749.9,155.5 1750.7,155.2 1751.5,155.0 1752.3,154.9 1753.0,154.8 1753.7,154.8 1754.4,155.0 1755.0,155.2 1755.6,155.6 1756.1,156.0 1756.5,156.5 1757.0,157.1 1757.3,157.8 1757.5,158.5 1757.7,159.1 1757.7,159.7 1757.7,160.3 1757.6,161.0 1757.5,161.8 1757.3,162.4 1757.1,163.1 1757.0,163.7 1756.8,164.4 1756.7,165.2 1756.4,166.3 1756.0,167.4 1755.6,168.6 1755.1,169.8 1754.7,170.9 1754.1,172.0 1753.6,173.1 1752.9,174.2 1752.3,175.2 1751.5,176.3 1750.7,177.3 1749.9,178.2 1749.0,179.2 1748.0,180.0 1747.0,180.7 1746.0,181.4 1744.9,182.0 1743.8,182.5 1742.5,183.0 1741.3,183.5 1740.1,183.9 1738.9,184.3 1737.6,184.6 1736.3,184.9 1735.0,185.2 1733.7,185.4 1732.7,185.6 1731.9,185.7 1731.1,186.2 1730.8,186.9 1730.9,187.8 1731.6,188.4Z"/>
<path d="M1784.0,188.5 1784.8,188.3 1785.8,188.2 1787.1,187.9 1788.5,187.7 1789.9,187.3 1791.3,187.0 1792.5,186.6 1793.8,186.1 1795.2,185.6 1796.5,185.1 1797.8,184.5 1799.0,183.8 1800.2,183.0 1801.4,182.2 1802.4,181.3 1803.5,180.4 1804.6,179.6 1805.7,178.7 1806.7,177.9 1807.8,177.0 1808.9,176.0 1809.9,175.1 1810.9,174.1 1811.8,173.1 1812.7,172.0 1813.7,170.9 1814.6,169.8 1815.5,168.5 1816.2,167.1 1816.8,165.6 1817.0,164.0 1816.9,162.5 1816.7,161.1 1816.2,159.7 1815.7,158.5 1815.1,157.4 1814.3,156.3 1813.4,155.4 1812.5,154.6 1811.5,153.9 1810.5,153.4 1809.5,153.0 1808.6,152.6 1807.6,152.4 1806.6,152.2 1805.6,152.1 1804.6,152.0 1803.6,152.1 1802.6,152.2 1801.5,152.5 1800.5,152.8 1799.3,153.2 1798.2,153.6 1797.0,154.2 1795.7,155.0 1794.4,155.8 1793.1,156.7 1791.8,157.7 1790.5,158.8 1789.1,159.9 1787.8,161.1 1786.4,162.4 1785.0,163.8 1783.6,165.3 1782.2,166.8 1781.0,168.4 1779.8,170.0 1778.7,171.6 1777.8,173.2 1776.8,174.9 1776.0,176.5 1775.2,178.2 1774.4,179.8 1773.7,181.5 1773.0,183.2 1772.4,184.9 1771.8,186.6 1771.3,188.4 1770.9,190.1 1770.6,191.8 1770.3,193.5 1770.1,195.2 1769.9,196.8 1769.9,198.3 1769.9,199.8 1770.0,201.2 1770.2,202.5 1770.5,203.8 1770.9,205.0 1771.3,206.1 1771.7,207.3 1772.3,208.6 1772.9,209.9 1773.6,211.2 1774.3,212.5 1775.2,213.7 1776.1,214.8 1777.0,215.8 1778.0,216.7 1779.1,217.5 1780.1,218.2 1781.3,218.8 1782.4,219.3 1783.6,219.7 1784.8,219.9 1786.0,220.1 1787.1,220.1 1788.3,220.1 1789.4,219.9 1790.5,219.6 1791.5,219.2 1792.5,218.8 1793.5,218.3 1794.4,217.7 1795.4,217.2 1796.3,216.5 1797.3,215.9 1798.2,215.1 1799.1,214.4 1800.0,213.6 1800.9,212.7 1801.8,211.7 1802.6,210.7 1803.4,209.8 1804.1,208.8 1804.9,207.9 1805.6,207.0 1806.3,206.1 1807.0,205.3 1807.7,204.5 1808.3,203.8 1808.7,203.3 1809.0,202.5 1808.8,201.7 1808.1,201.1 1807.3,201.1 1806.5,201.5 1806.1,202.0 1805.6,202.7 1804.9,203.4 1804.2,204.3 1803.4,205.1 1802.6,206.0 1801.8,206.8 1801.0,207.7 1800.2,208.6 1799.3,209.5 1798.5,210.3 1797.7,211.0 1796.9,211.7 1796.0,212.4 1795.2,213.0 1794.4,213.6 1793.5,214.0 1792.7,214.4 1791.9,214.8 1791.1,215.1 1790.3,215.3 1789.5,215.4 1788.8,215.4 1788.2,215.4 1787.5,215.2 1786.8,215.0 1786.2,214.8 1785.6,214.5 1785.0,214.1 1784.5,213.7 1784.0,213.2 1783.6,212.6 1783.2,211.9 1782.8,211.2 1782.5,210.4 1782.2,209.7 1782.0,208.9 1781.8,208.0 1781.7,207.0 1781.6,205.9 1781.5,204.8 1781.4,203.7 1781.3,202.8 1781.2,201.9 1781.2,201.1 1781.2,200.4 1781.2,199.6 1781.3,198.7 1781.3,197.6 1781.4,196.3 1781.6,195.0 1781.8,193.7 1782.0,192.4 1782.2,191.0 1782.6,189.7 1782.9,188.2 1783.4,186.8 1783.8,185.3 1784.4,183.8 1784.9,182.2 1785.4,180.7 1786.0,179.1 1786.6,177.6 1787.2,176.1 1787.9,174.6 1788.6,173.1 1789.3,171.6 1790.1,170.0 1791.0,168.4 1791.9,166.8 1792.8,165.3 1793.7,163.9 1794.6,162.6 1795.5,161.3 1796.4,160.1 1797.3,159.0 1798.1,158.0 1799.0,157.2 1799.8,156.5 1800.6,155.9 1801.5,155.5 1802.3,155.2 1803.1,155.0 1803.9,154.9 1804.6,154.8 1805.3,154.8 1806.0,155.0 1806.6,155.2 1807.2,155.6 1807.7,156.0 1808.1,156.5 1808.6,157.1 1808.9,157.8 1809.1,158.5 1809.3,159.1 1809.3,159.7 1809.3,160.3 1809.2,161.0 1809.1,161.8 1808.9,162.4 1808.7,163.1 1808.6,163.7 1808.4,164.4 1808.3,165.2 1808.0,166.3 1807.6,167.4 1807.2,168.6 1806.7,169.8 1806.3,170.9 1805.7,172.0 1805.2,173.1 1804.5,174.2 1803.9,175.2 1803.1,176.3 1802.3,177.3 1801.5,178.2 1800.6,179.2 1799.6,180.0 1798.6,180.7 1797.6,181.4 1796.5,182.0 1795.4,182.5 1794.1,183.0 1792.9,183.5 1791.7,183.9 1790.5,184.3 1789.2,184.6 1787.9,184.9 1786.6,185.2 1785.3,185.4 1784.3,185.6 1783.5,185.7 1782.7,186.2 1782.4,186.9 1782.5,187.8 1783.2,188.4Z"/>
</g>

</svg>
</body>
</html>
